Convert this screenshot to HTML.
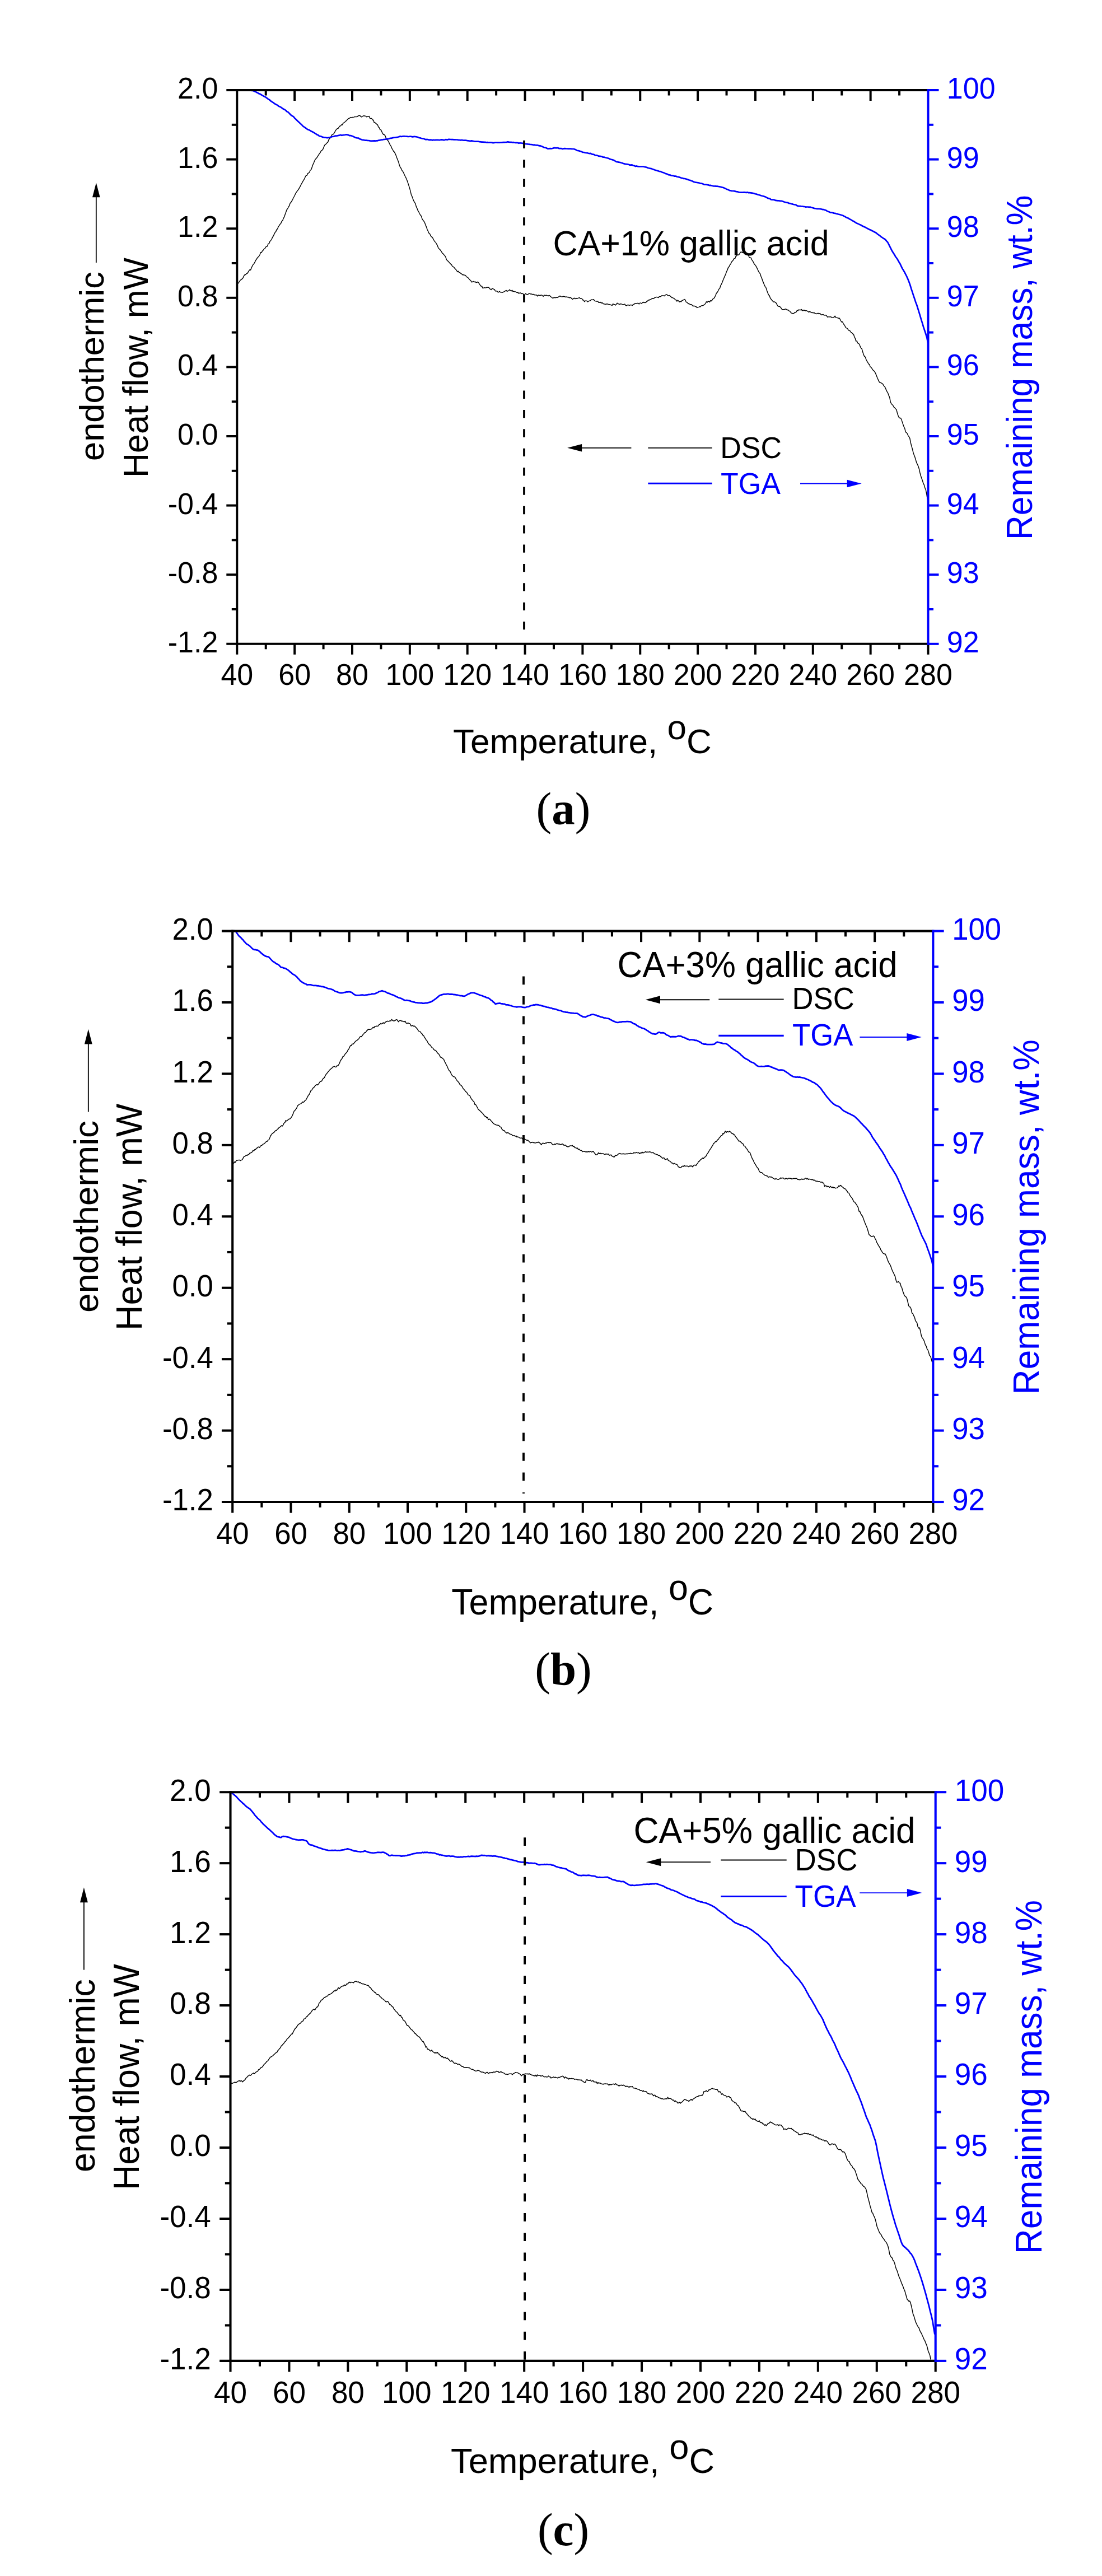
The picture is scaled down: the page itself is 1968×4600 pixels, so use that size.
<!DOCTYPE html>
<html lang="en"><head><meta charset="utf-8"><title>DSC and TGA curves</title>
<style>
html,body{margin:0;padding:0;background:#fff;}
body{width:1968px;height:4600px;overflow:hidden;}
svg{display:block;}
</style></head><body>
<svg width="1968" height="4600" viewBox="0 0 1968 4600">
<rect width="1968" height="4600" fill="#fff"/>
<g transform="translate(0.000 0.000) scale(1.00000 1.00000)">
<polyline points="423.5,506.9 425.0,506.2 426.5,504.5 428.0,501.9 429.5,500.1 431.0,499.1 432.5,497.9 434.0,496.3 435.5,492.9 437.0,490.6 438.5,490.5 440.0,488.7 441.5,488.2 443.0,486.2 444.5,483.6 446.0,481.8 447.5,482.3 449.0,478.4 450.5,475.3 452.0,472.5 453.5,470.9 455.0,468.5 456.5,465.1 458.0,463.0 459.5,460.6 461.0,459.1 462.5,457.5 464.0,455.0 465.5,450.8 467.0,451.1 468.5,448.2 470.0,446.9 471.5,444.7 473.0,443.9 474.5,441.3 476.0,439.9 477.5,439.7 479.0,435.3 480.5,435.0 482.0,431.1 483.6,429.4 485.1,427.3 486.6,423.9 488.1,421.5 489.6,418.4 491.1,415.3 492.6,413.6 494.1,410.1 495.6,408.7 497.1,404.7 498.6,402.9 500.1,400.4 501.6,398.9 503.1,395.2 504.6,394.2 506.1,390.1 507.6,387.4 509.1,382.9 510.6,378.9 512.1,374.6 513.6,372.7 515.1,369.7 516.6,367.5 518.1,363.0 519.6,361.3 521.1,359.0 522.6,356.3 524.1,353.0 525.6,350.5 527.1,347.2 528.6,344.3 530.1,342.1 531.6,340.1 533.1,338.2 534.6,335.6 536.1,332.9 537.6,329.7 539.1,327.2 540.6,324.4 542.1,321.6 543.6,319.6 545.1,316.0 546.6,313.4 548.1,313.2 549.6,309.7 551.1,309.0 552.6,307.8 554.1,303.9 555.6,303.1 557.1,298.9 558.6,294.5 560.1,291.4 561.6,287.5 563.1,284.6 564.6,283.0 566.1,281.2 567.6,278.8 569.1,276.4 570.6,274.1 572.1,272.3 573.7,268.9 575.2,268.3 576.7,266.5 578.2,262.8 579.7,259.2 581.2,257.9 582.7,256.7 584.2,254.9 585.7,253.6 587.2,249.3 588.7,247.5 590.2,245.1 591.7,242.8 593.2,240.0 594.7,239.9 596.2,238.7 597.7,236.2 599.2,233.1 600.7,231.2 602.2,229.8 603.7,229.5 605.2,227.4 606.7,225.2 608.2,224.9 609.7,222.8 611.2,223.1 612.7,220.1 614.2,219.2 615.7,218.0 617.2,217.0 618.7,215.0 620.2,213.7 621.7,212.2 623.2,211.3 624.7,210.8 626.2,209.6 627.7,210.2 629.2,209.4 630.7,209.4 632.2,209.1 633.7,208.4 635.2,208.6 636.7,208.5 638.2,208.1 639.7,206.8 641.2,206.7 642.7,206.1 644.2,208.2 645.7,208.9 647.2,207.6 648.7,207.2 650.2,206.5 651.7,207.4 653.2,207.2 654.7,208.7 656.2,208.2 657.7,208.2 659.2,207.6 660.7,211.2 662.2,211.5 663.8,211.5 665.3,214.3 666.8,214.2 668.3,219.2 669.8,218.9 671.3,220.4 672.8,221.8 674.3,222.8 675.8,226.7 677.3,228.1 678.8,231.8 680.3,231.8 681.8,235.1 683.3,238.3 684.8,240.3 686.3,240.5 687.8,242.2 689.3,246.3 690.8,249.2 692.3,250.4 693.8,252.6 695.3,255.9 696.8,258.8 698.3,261.1 699.8,264.8 701.3,267.2 702.8,270.2 704.3,271.4 705.8,274.4 707.3,277.7 708.8,281.9 710.3,285.8 711.8,289.5 713.3,295.1 714.8,298.8 716.3,300.8 717.8,304.2 719.3,306.0 720.8,308.6 722.3,312.2 723.8,315.3 725.3,318.2 726.8,321.8 728.3,325.9 729.8,330.6 731.3,335.3 732.8,340.6 734.3,347.2 735.8,350.6 737.3,354.8 738.8,358.7 740.3,361.1 741.8,363.6 743.3,368.9 744.8,371.9 746.3,376.0 747.8,378.3 749.3,381.5 750.8,384.1 752.3,385.7 753.9,390.9 755.4,393.2 756.9,394.9 758.4,397.4 759.9,401.6 761.4,405.1 762.9,409.5 764.4,412.7 765.9,416.3 767.4,417.2 768.9,420.5 770.4,422.9 771.9,423.5 773.4,426.2 774.9,429.0 776.4,431.5 777.9,432.5 779.4,435.3 780.9,437.7 782.4,441.8 783.9,444.2 785.4,445.3 786.9,447.2 788.4,449.3 789.9,452.1 791.4,453.2 792.9,455.0 794.4,456.6 795.9,459.1 797.4,463.8 798.9,465.2 800.4,466.6 801.9,468.3 803.4,469.9 804.9,471.6 806.4,472.6 807.9,475.7 809.4,476.4 810.9,477.5 812.4,479.5 813.9,481.0 815.4,482.9 816.9,485.5 818.4,484.2 819.9,486.5 821.4,486.8 822.9,488.3 824.4,489.1 825.9,490.7 827.4,490.8 828.9,491.3 830.4,491.2 831.9,492.6 833.4,494.6 834.9,495.1 836.4,496.6 837.9,498.4 839.4,500.0 840.9,501.3 842.4,503.8 844.0,503.3 845.5,502.5 847.0,503.7 848.5,502.9 850.0,504.5 851.5,504.4 853.0,503.4 854.5,504.6 856.0,506.8 857.5,509.2 859.0,510.9 860.5,510.9 862.0,514.4 863.5,514.3 865.0,513.8 866.5,513.9 868.0,514.0 869.5,512.9 871.0,513.3 872.5,513.1 874.0,514.5 875.5,516.5 877.0,517.5 878.5,515.8 880.0,515.3 881.5,516.4 883.0,516.6 884.5,519.7 886.0,519.6 887.5,519.8 889.0,521.6 890.5,521.8 892.0,520.3 893.5,521.8 895.0,521.7 896.5,522.4 898.0,522.0 899.5,521.2 901.0,520.6 902.5,519.4 904.0,518.5 905.5,520.3 907.0,519.5 908.5,519.2 910.0,517.3 911.5,518.7 913.0,519.7 914.5,518.2 916.0,520.7 917.5,520.0 919.0,521.0 920.5,520.9 922.0,521.6 923.5,522.8 925.0,521.8 926.5,524.1 928.0,523.2 929.5,522.9 931.0,524.5 932.5,523.9 934.1,524.7 935.6,526.1 937.1,526.3 938.6,524.2 940.1,525.4 941.6,526.2 943.1,525.3 944.6,524.3 946.1,524.4 947.6,525.0 949.1,525.0 950.6,525.7 952.1,525.5 953.6,525.8 955.1,526.9 956.6,526.8 958.1,526.7 959.6,528.9 961.1,527.0 962.6,527.3 964.1,527.7 965.6,527.2 967.1,526.9 968.6,527.6 970.1,529.4 971.6,527.3 973.1,527.1 974.6,527.6 976.1,527.2 977.6,527.8 979.1,528.6 980.6,527.2 982.1,528.4 983.6,529.8 985.1,530.8 986.6,532.2 988.1,532.1 989.6,531.2 991.1,531.8 992.6,531.5 994.1,531.3 995.6,531.4 997.1,530.3 998.6,529.4 1000.1,528.4 1001.6,529.6 1003.1,529.9 1004.6,529.7 1006.1,529.3 1007.6,529.8 1009.1,529.8 1010.6,530.7 1012.1,530.0 1013.6,530.7 1015.1,530.4 1016.6,531.9 1018.1,531.1 1019.6,531.8 1021.1,533.5 1022.6,534.4 1024.2,532.9 1025.7,532.2 1027.2,533.6 1028.7,532.5 1030.2,533.3 1031.7,532.6 1033.2,532.1 1034.7,531.4 1036.2,533.1 1037.7,532.7 1039.2,533.3 1040.7,535.8 1042.2,535.8 1043.7,538.7 1045.2,537.2 1046.7,537.2 1048.2,537.5 1049.7,539.0 1051.2,537.8 1052.7,537.2 1054.2,537.0 1055.7,535.2 1057.2,535.2 1058.7,535.4 1060.2,534.7 1061.7,537.1 1063.2,537.6 1064.7,538.0 1066.2,538.0 1067.7,538.1 1069.2,540.3 1070.7,540.3 1072.2,539.5 1073.7,541.3 1075.2,540.3 1076.7,541.9 1078.2,542.8 1079.7,543.0 1081.2,543.2 1082.7,543.2 1084.2,542.5 1085.7,543.4 1087.2,543.5 1088.7,543.7 1090.2,544.3 1091.7,544.7 1093.2,545.5 1094.7,542.6 1096.2,543.8 1097.7,543.6 1099.2,544.9 1100.7,543.4 1102.2,541.2 1103.7,542.8 1105.2,542.5 1106.7,543.6 1108.2,542.5 1109.7,542.9 1111.2,543.4 1112.7,543.7 1114.3,543.5 1115.8,543.1 1117.3,545.3 1118.8,545.9 1120.3,544.7 1121.8,544.5 1123.3,545.1 1124.8,545.2 1126.3,544.4 1127.8,544.6 1129.3,545.6 1130.8,543.5 1132.3,543.4 1133.8,542.0 1135.3,542.3 1136.8,542.2 1138.3,541.5 1139.8,541.4 1141.3,542.9 1142.8,541.1 1144.3,541.0 1145.8,542.0 1147.3,540.5 1148.8,539.4 1150.3,540.6 1151.8,539.8 1153.3,540.6 1154.8,538.0 1156.3,537.7 1157.8,535.8 1159.3,536.1 1160.8,534.8 1162.3,534.6 1163.8,533.5 1165.3,533.0 1166.8,533.4 1168.3,532.3 1169.8,531.2 1171.3,530.7 1172.8,530.4 1174.3,530.8 1175.8,531.5 1177.3,529.7 1178.8,529.9 1180.3,529.3 1181.8,527.9 1183.3,527.9 1184.8,527.9 1186.3,528.6 1187.8,527.2 1189.3,526.4 1190.8,525.8 1192.3,527.6 1193.8,528.0 1195.3,527.5 1196.8,528.6 1198.3,529.9 1199.8,531.5 1201.3,531.6 1202.8,532.5 1204.4,533.4 1205.9,535.2 1207.4,535.7 1208.9,538.0 1210.4,536.1 1211.9,537.5 1213.4,539.2 1214.9,538.4 1216.4,538.9 1217.9,536.7 1219.4,536.2 1220.9,535.4 1222.4,534.5 1223.9,535.8 1225.4,539.6 1226.9,539.9 1228.4,541.4 1229.9,542.6 1231.4,542.8 1232.9,543.8 1234.4,543.7 1235.9,544.7 1237.4,546.6 1238.9,546.3 1240.4,546.5 1241.9,547.5 1243.4,547.7 1244.9,549.4 1246.4,548.6 1247.9,548.4 1249.4,547.7 1250.9,547.9 1252.4,545.9 1253.9,545.8 1255.4,545.6 1256.9,544.6 1258.4,543.5 1259.9,542.3 1261.4,538.7 1262.9,540.1 1264.4,538.2 1265.9,538.0 1267.4,539.5 1268.9,536.7 1270.4,537.5 1271.9,535.8 1273.4,533.4 1274.9,532.8 1276.4,530.5 1277.9,527.6 1279.4,523.5 1280.9,522.1 1282.4,519.5 1283.9,516.2 1285.4,515.0 1286.9,510.1 1288.4,507.3 1289.9,504.0 1291.4,500.0 1292.9,496.5 1294.5,492.9 1296.0,489.5 1297.5,485.0 1299.0,482.2 1300.5,477.8 1302.0,476.2 1303.5,473.0 1305.0,471.1 1306.5,467.6 1308.0,466.3 1309.5,464.3 1311.0,461.6 1312.5,461.9 1314.0,457.8 1315.5,456.9 1317.0,454.9 1318.5,455.4 1320.0,454.3 1321.5,451.9 1323.0,450.0 1324.5,450.1 1326.0,451.2 1327.5,450.7 1329.0,450.3 1330.5,451.0 1332.0,452.3 1333.5,453.5 1335.0,454.2 1336.5,455.8 1338.0,459.3 1339.5,460.4 1341.0,460.3 1342.5,463.6 1344.0,465.8 1345.5,468.1 1347.0,471.6 1348.5,473.1 1350.0,475.1 1351.5,477.9 1353.0,481.0 1354.5,484.5 1356.0,486.9 1357.5,488.7 1359.0,493.5 1360.5,497.1 1362.0,501.6 1363.5,504.9 1365.0,508.9 1366.5,511.9 1368.0,513.9 1369.5,518.8 1371.0,522.7 1372.5,526.5 1374.0,527.9 1375.5,532.0 1377.0,534.2 1378.5,536.0 1380.0,537.7 1381.5,539.2 1383.0,538.9 1384.6,539.9 1386.1,541.1 1387.6,543.9 1389.1,546.5 1390.6,547.2 1392.1,547.0 1393.6,548.6 1395.1,550.3 1396.6,552.5 1398.1,552.8 1399.6,552.6 1401.1,552.5 1402.6,551.8 1404.1,552.3 1405.6,553.7 1407.1,553.2 1408.6,554.8 1410.1,555.4 1411.6,557.0 1413.1,559.0 1414.6,559.3 1416.1,560.2 1417.6,559.7 1419.1,558.0 1420.6,557.8 1422.1,557.0 1423.6,554.2 1425.1,554.7 1426.6,552.9 1428.1,553.7 1429.6,553.5 1431.1,552.4 1432.6,555.0 1434.1,553.5 1435.6,554.8 1437.1,553.7 1438.6,555.1 1440.1,554.7 1441.6,555.3 1443.1,556.3 1444.6,557.6 1446.1,556.0 1447.6,557.2 1449.1,558.4 1450.6,557.9 1452.1,559.0 1453.6,558.1 1455.1,559.4 1456.6,559.6 1458.1,560.5 1459.6,560.0 1461.1,559.2 1462.6,560.6 1464.1,559.5 1465.6,561.1 1467.1,562.4 1468.6,561.8 1470.1,561.5 1471.6,563.1 1473.1,562.9 1474.7,562.8 1476.2,563.9 1477.7,566.2 1479.2,565.9 1480.7,565.6 1482.2,566.1 1483.7,565.6 1485.2,567.1 1486.7,567.0 1488.2,566.7 1489.7,566.2 1491.2,564.3 1492.7,567.1 1494.2,567.1 1495.7,567.6 1497.2,568.3 1498.7,568.0 1500.2,570.0 1501.7,573.1 1503.2,575.2 1504.7,574.7 1506.2,578.3 1507.7,580.0 1509.2,582.6 1510.7,585.3 1512.2,585.9 1513.7,587.1 1515.2,589.6 1516.7,590.3 1518.2,591.0 1519.7,593.5 1521.2,594.0 1522.7,596.3 1524.2,596.5 1525.7,601.3 1527.2,604.2 1528.7,609.2 1530.2,608.7 1531.7,612.7 1533.2,613.3 1534.7,614.7 1536.2,618.7 1537.7,621.6 1539.2,623.1 1540.7,628.5 1542.2,633.1 1543.7,636.5 1545.2,637.3 1546.7,641.8 1548.2,644.8 1549.7,647.2 1551.2,650.0 1552.7,650.8 1554.2,655.2 1555.7,655.9 1557.2,658.1 1558.7,660.4 1560.2,661.9 1561.7,663.3 1563.2,665.8 1564.8,669.6 1566.3,673.5 1567.8,677.0 1569.3,680.4 1570.8,682.8 1572.3,683.3 1573.8,683.9 1575.3,684.8 1576.8,686.1 1578.3,689.0 1579.8,690.2 1581.3,693.1 1582.8,696.6 1584.3,699.6 1585.8,702.2 1587.3,706.4 1588.8,709.9 1590.3,717.9 1591.8,721.0 1593.3,722.5 1594.8,724.0 1596.3,727.0 1597.8,728.1 1599.3,730.0 1600.8,731.3 1602.3,737.0 1603.8,741.7 1605.3,745.2 1606.8,746.5 1608.3,746.4 1609.8,748.9 1611.3,753.6 1612.8,758.1 1614.3,762.2 1615.8,765.3 1617.3,771.5 1618.8,772.3 1620.3,774.4 1621.8,777.8 1623.3,779.9 1624.8,782.6 1626.3,790.5 1627.8,796.4 1629.3,801.5 1630.8,807.6 1632.3,812.4 1633.8,816.0 1635.3,821.0 1636.8,826.1 1638.3,829.0 1639.8,832.4 1641.3,836.9 1642.8,843.7 1644.3,849.6 1645.8,853.8 1647.3,858.1 1648.8,862.7 1650.3,865.9 1651.8,871.2 1653.3,874.7 1654.9,882.8 1656.4,892.7" fill="none" stroke="#000" stroke-width="1.45" stroke-linejoin="round"/>
<polyline points="446.1,160.7 448.1,161.1 450.1,162.0 452.1,161.8 454.1,163.2 456.1,163.4 458.1,165.0 460.1,165.7 462.1,167.1 464.2,167.7 466.2,169.0 468.2,170.2 470.2,171.4 472.2,172.6 474.2,173.3 476.2,174.8 478.2,176.4 480.2,177.7 482.2,179.0 484.2,180.9 486.2,182.1 488.2,183.4 490.2,185.0 492.2,186.2 494.2,187.1 496.2,188.4 498.2,190.0 500.2,190.7 502.2,191.9 504.2,193.3 506.2,194.8 508.2,195.6 510.2,197.0 512.2,199.2 514.2,199.9 516.2,201.9 518.2,204.0 520.2,206.0 522.2,207.1 524.2,208.4 526.2,210.9 528.2,212.7 530.2,214.7 532.2,216.7 534.2,218.6 536.2,220.4 538.2,222.2 540.2,224.4 542.2,226.2 544.2,227.4 546.2,228.8 548.2,230.4 550.2,231.5 552.2,232.1 554.2,233.3 556.2,234.6 558.2,235.5 560.2,236.7 562.2,237.9 564.2,239.2 566.2,240.5 568.2,241.3 570.2,243.0 572.2,243.4 574.2,243.8 576.3,245.0 578.3,245.2 580.3,245.6 582.3,245.7 584.3,246.2 586.3,245.8 588.3,245.5 590.3,245.3 592.3,244.2 594.3,243.8 596.3,243.7 598.3,242.7 600.3,242.7 602.3,242.5 604.3,241.9 606.3,241.6 608.3,240.9 610.3,241.8 612.3,241.3 614.3,241.0 616.3,240.8 618.3,240.3 620.3,240.6 622.3,241.1 624.3,242.2 626.3,242.1 628.3,242.8 630.3,243.5 632.3,244.4 634.3,245.5 636.3,246.2 638.3,246.5 640.3,246.6 642.3,248.1 644.3,248.7 646.3,249.6 648.3,249.9 650.3,250.2 652.3,250.6 654.3,250.6 656.3,250.9 658.3,251.0 660.3,251.4 662.3,251.8 664.3,251.7 666.3,251.7 668.3,251.4 670.3,251.6 672.3,251.4 674.3,251.3 676.3,250.6 678.3,250.4 680.3,249.7 682.3,249.7 684.3,249.2 686.4,249.0 688.4,248.7 690.4,248.0 692.4,248.1 694.4,247.8 696.4,246.9 698.4,246.9 700.4,246.4 702.4,245.8 704.4,245.7 706.4,245.3 708.4,245.2 710.4,244.8 712.4,244.3 714.4,243.4 716.4,244.0 718.4,243.6 720.4,243.3 722.4,243.3 724.4,243.5 726.4,243.7 728.4,243.9 730.4,244.0 732.4,243.5 734.4,243.8 736.4,244.4 738.4,244.1 740.4,243.8 742.4,244.2 744.4,244.5 746.4,245.0 748.4,246.0 750.4,246.3 752.4,247.0 754.4,247.4 756.4,247.6 758.4,248.4 760.4,249.3 762.4,248.9 764.4,249.3 766.4,249.9 768.4,249.6 770.4,249.8 772.4,250.4 774.4,249.8 776.4,250.2 778.4,249.9 780.4,249.8 782.4,249.8 784.4,250.2 786.4,249.8 788.4,249.4 790.4,249.6 792.4,250.1 794.4,249.8 796.4,249.0 798.5,249.7 800.5,248.9 802.5,248.9 804.5,249.0 806.5,249.1 808.5,249.2 810.5,249.4 812.5,249.3 814.5,249.5 816.5,249.5 818.5,249.9 820.5,250.0 822.5,250.3 824.5,250.0 826.5,250.4 828.5,250.6 830.5,250.6 832.5,250.7 834.5,251.1 836.5,251.3 838.5,251.7 840.5,251.9 842.5,251.4 844.5,252.0 846.5,252.2 848.5,252.7 850.5,252.5 852.5,252.6 854.5,252.7 856.5,253.2 858.5,253.4 860.5,253.6 862.5,253.7 864.5,253.8 866.5,253.9 868.5,254.3 870.5,254.1 872.5,254.5 874.5,254.4 876.5,254.3 878.5,254.6 880.5,255.1 882.5,254.9 884.5,254.5 886.5,254.5 888.5,254.7 890.5,254.7 892.5,254.7 894.5,254.3 896.5,254.3 898.5,254.2 900.5,254.1 902.5,254.0 904.5,254.0 906.5,253.3 908.6,253.6 910.6,254.0 912.6,253.8 914.6,254.3 916.6,254.1 918.6,254.5 920.6,254.8 922.6,254.8 924.6,255.0 926.6,255.8 928.6,255.3 930.6,255.5 932.6,255.7 934.6,256.1 936.6,256.6 938.6,257.0 940.6,257.2 942.6,257.3 944.6,257.7 946.6,257.9 948.6,258.0 950.6,258.3 952.6,258.8 954.6,258.7 956.6,259.2 958.6,259.3 960.6,259.4 962.6,260.4 964.6,260.2 966.6,260.9 968.6,261.7 970.6,263.0 972.6,263.3 974.6,263.7 976.6,264.8 978.6,265.7 980.6,265.4 982.6,265.1 984.6,265.4 986.6,265.0 988.6,264.4 990.6,263.9 992.6,264.3 994.6,264.2 996.6,264.2 998.6,265.2 1000.6,265.2 1002.6,265.2 1004.6,265.9 1006.6,265.4 1008.6,265.2 1010.6,265.4 1012.6,265.5 1014.6,265.7 1016.6,265.7 1018.6,265.6 1020.7,265.8 1022.7,266.0 1024.7,266.0 1026.7,266.8 1028.7,267.6 1030.7,268.8 1032.7,269.0 1034.7,269.6 1036.7,270.3 1038.7,270.9 1040.7,272.0 1042.7,272.0 1044.7,272.6 1046.7,272.9 1048.7,273.1 1050.7,273.8 1052.7,274.2 1054.7,273.9 1056.7,275.1 1058.7,275.7 1060.7,275.9 1062.7,277.1 1064.7,277.3 1066.7,277.6 1068.7,278.6 1070.7,278.9 1072.7,279.2 1074.7,279.5 1076.7,280.7 1078.7,280.6 1080.7,281.3 1082.7,281.7 1084.7,282.2 1086.7,282.7 1088.7,283.9 1090.7,284.5 1092.7,285.0 1094.7,285.6 1096.7,286.4 1098.7,287.7 1100.7,288.9 1102.7,289.1 1104.7,289.6 1106.7,289.8 1108.7,290.5 1110.7,290.9 1112.7,291.7 1114.7,292.4 1116.7,292.9 1118.7,293.1 1120.7,293.4 1122.7,293.8 1124.7,294.7 1126.7,294.6 1128.7,294.4 1130.7,295.6 1132.8,295.9 1134.8,297.1 1136.8,296.4 1138.8,297.2 1140.8,297.3 1142.8,297.5 1144.8,297.5 1146.8,297.5 1148.8,297.5 1150.8,298.0 1152.8,298.3 1154.8,298.7 1156.8,299.8 1158.8,300.2 1160.8,300.8 1162.8,300.9 1164.8,301.7 1166.8,302.4 1168.8,303.2 1170.8,303.9 1172.8,304.5 1174.8,305.1 1176.8,305.8 1178.8,306.1 1180.8,306.8 1182.8,307.7 1184.8,308.3 1186.8,309.1 1188.8,310.1 1190.8,310.5 1192.8,311.5 1194.8,312.4 1196.8,312.5 1198.8,313.5 1200.8,313.6 1202.8,314.0 1204.8,314.7 1206.8,314.5 1208.8,315.5 1210.8,315.8 1212.8,316.4 1214.8,317.0 1216.8,317.8 1218.8,318.0 1220.8,318.9 1222.8,319.0 1224.8,319.5 1226.8,320.1 1228.8,320.9 1230.8,321.5 1232.8,322.0 1234.8,323.0 1236.8,323.5 1238.8,324.8 1240.8,325.3 1242.9,325.7 1244.9,326.0 1246.9,326.3 1248.9,326.7 1250.9,327.5 1252.9,327.6 1254.9,328.2 1256.9,329.2 1258.9,329.6 1260.9,329.7 1262.9,330.0 1264.9,330.3 1266.9,331.1 1268.9,330.9 1270.9,331.5 1272.9,332.0 1274.9,332.5 1276.9,332.4 1278.9,332.7 1280.9,332.7 1282.9,333.0 1284.9,333.3 1286.9,333.8 1288.9,334.4 1290.9,334.8 1292.9,335.5 1294.9,336.4 1296.9,337.4 1298.9,338.3 1300.9,339.0 1302.9,340.1 1304.9,340.4 1306.9,341.0 1308.9,341.0 1310.9,341.1 1312.9,341.6 1314.9,342.1 1316.9,342.3 1318.9,343.1 1320.9,343.5 1322.9,343.6 1324.9,343.6 1326.9,343.6 1328.9,343.3 1330.9,343.6 1332.9,343.9 1334.9,343.4 1336.9,344.2 1338.9,344.2 1340.9,344.3 1342.9,344.6 1344.9,345.0 1346.9,345.6 1348.9,346.2 1350.9,346.6 1352.9,347.5 1355.0,348.0 1357.0,348.5 1359.0,349.2 1361.0,349.8 1363.0,350.3 1365.0,350.9 1367.0,351.6 1369.0,352.7 1371.0,353.9 1373.0,354.4 1375.0,354.9 1377.0,356.5 1379.0,356.6 1381.0,356.6 1383.0,357.0 1385.0,357.9 1387.0,358.1 1389.0,358.4 1391.0,358.3 1393.0,358.9 1395.0,358.8 1397.0,359.3 1399.0,360.0 1401.0,360.7 1403.0,361.2 1405.0,361.8 1407.0,361.8 1409.0,363.2 1411.0,363.2 1413.0,364.0 1415.0,364.4 1417.0,365.0 1419.0,365.5 1421.0,365.7 1423.0,367.0 1425.0,367.9 1427.0,368.1 1429.0,368.2 1431.0,368.5 1433.0,368.5 1435.0,368.9 1437.0,369.0 1439.0,369.7 1441.0,369.5 1443.0,369.5 1445.0,369.9 1447.0,369.7 1449.0,370.5 1451.0,371.0 1453.0,371.6 1455.0,372.2 1457.0,372.5 1459.0,372.9 1461.0,372.8 1463.0,373.0 1465.1,373.2 1467.1,373.5 1469.1,374.1 1471.1,374.2 1473.1,374.9 1475.1,375.6 1477.1,376.9 1479.1,377.7 1481.1,378.4 1483.1,379.6 1485.1,379.5 1487.1,380.0 1489.1,380.6 1491.1,380.8 1493.1,381.6 1495.1,381.9 1497.1,382.5 1499.1,383.0 1501.1,383.5 1503.1,384.2 1505.1,384.8 1507.1,385.9 1509.1,386.8 1511.1,388.2 1513.1,388.9 1515.1,389.7 1517.1,391.2 1519.1,392.0 1521.1,393.4 1523.1,394.5 1525.1,395.4 1527.1,396.9 1529.1,398.2 1531.1,399.1 1533.1,399.9 1535.1,400.9 1537.1,401.7 1539.1,403.0 1541.1,404.0 1543.1,405.0 1545.1,405.8 1547.1,406.9 1549.1,408.0 1551.1,409.0 1553.1,410.1 1555.1,410.7 1557.1,412.1 1559.1,412.8 1561.1,414.0 1563.1,415.0 1565.1,416.2 1567.1,418.0 1569.1,419.4 1571.1,420.8 1573.1,422.6 1575.1,423.8 1577.2,425.4 1579.2,426.5 1581.2,427.8 1583.2,430.3 1585.2,432.5 1587.2,436.4 1589.2,440.4 1591.2,444.3 1593.2,448.3 1595.2,451.4 1597.2,454.5 1599.2,458.2 1601.2,460.8 1603.2,463.8 1605.2,467.5 1607.2,470.7 1609.2,474.9 1611.2,479.1 1613.2,482.4 1615.2,485.7 1617.2,489.6 1619.2,493.5 1621.2,498.1 1623.2,503.0 1625.2,508.5 1627.2,515.2 1629.2,521.1 1631.2,527.3 1633.2,533.3 1635.2,539.4 1637.2,544.6 1639.2,551.0 1641.2,557.3 1643.2,564.0 1645.2,570.8 1647.2,577.2 1649.2,584.0 1651.2,590.0 1653.2,596.0 1655.2,602.6 1657.2,612.8" fill="none" stroke="#0000ff" stroke-width="2.7" stroke-linejoin="round"/>
<line x1="936.00" y1="250.80" x2="936.00" y2="1140.00" stroke="#000" stroke-width="3.8" stroke-dasharray="14.3 20.07"/>
<line x1="404.30" y1="161.00" x2="1657.50" y2="161.00" stroke="#000" stroke-width="4.0"/>
<line x1="404.30" y1="1149.80" x2="1659.50" y2="1149.80" stroke="#000" stroke-width="4.0"/>
<line x1="423.30" y1="159.00" x2="423.30" y2="1168.80" stroke="#000" stroke-width="4.0"/>
<line x1="474.73" y1="1149.80" x2="474.73" y2="1159.30" stroke="#000" stroke-width="4.0"/>
<line x1="474.73" y1="161.00" x2="474.73" y2="170.50" stroke="#000" stroke-width="4.0"/>
<line x1="526.15" y1="1149.80" x2="526.15" y2="1168.80" stroke="#000" stroke-width="4.0"/>
<line x1="526.15" y1="161.00" x2="526.15" y2="180.00" stroke="#000" stroke-width="4.0"/>
<line x1="577.58" y1="1149.80" x2="577.58" y2="1159.30" stroke="#000" stroke-width="4.0"/>
<line x1="577.58" y1="161.00" x2="577.58" y2="170.50" stroke="#000" stroke-width="4.0"/>
<line x1="629.00" y1="1149.80" x2="629.00" y2="1168.80" stroke="#000" stroke-width="4.0"/>
<line x1="629.00" y1="161.00" x2="629.00" y2="180.00" stroke="#000" stroke-width="4.0"/>
<line x1="680.42" y1="1149.80" x2="680.42" y2="1159.30" stroke="#000" stroke-width="4.0"/>
<line x1="680.42" y1="161.00" x2="680.42" y2="170.50" stroke="#000" stroke-width="4.0"/>
<line x1="731.85" y1="1149.80" x2="731.85" y2="1168.80" stroke="#000" stroke-width="4.0"/>
<line x1="731.85" y1="161.00" x2="731.85" y2="180.00" stroke="#000" stroke-width="4.0"/>
<line x1="783.28" y1="1149.80" x2="783.28" y2="1159.30" stroke="#000" stroke-width="4.0"/>
<line x1="783.28" y1="161.00" x2="783.28" y2="170.50" stroke="#000" stroke-width="4.0"/>
<line x1="834.70" y1="1149.80" x2="834.70" y2="1168.80" stroke="#000" stroke-width="4.0"/>
<line x1="834.70" y1="161.00" x2="834.70" y2="180.00" stroke="#000" stroke-width="4.0"/>
<line x1="886.12" y1="1149.80" x2="886.12" y2="1159.30" stroke="#000" stroke-width="4.0"/>
<line x1="886.12" y1="161.00" x2="886.12" y2="170.50" stroke="#000" stroke-width="4.0"/>
<line x1="937.55" y1="1149.80" x2="937.55" y2="1168.80" stroke="#000" stroke-width="4.0"/>
<line x1="937.55" y1="161.00" x2="937.55" y2="180.00" stroke="#000" stroke-width="4.0"/>
<line x1="988.97" y1="1149.80" x2="988.97" y2="1159.30" stroke="#000" stroke-width="4.0"/>
<line x1="988.97" y1="161.00" x2="988.97" y2="170.50" stroke="#000" stroke-width="4.0"/>
<line x1="1040.40" y1="1149.80" x2="1040.40" y2="1168.80" stroke="#000" stroke-width="4.0"/>
<line x1="1040.40" y1="161.00" x2="1040.40" y2="180.00" stroke="#000" stroke-width="4.0"/>
<line x1="1091.83" y1="1149.80" x2="1091.83" y2="1159.30" stroke="#000" stroke-width="4.0"/>
<line x1="1091.83" y1="161.00" x2="1091.83" y2="170.50" stroke="#000" stroke-width="4.0"/>
<line x1="1143.25" y1="1149.80" x2="1143.25" y2="1168.80" stroke="#000" stroke-width="4.0"/>
<line x1="1143.25" y1="161.00" x2="1143.25" y2="180.00" stroke="#000" stroke-width="4.0"/>
<line x1="1194.67" y1="1149.80" x2="1194.67" y2="1159.30" stroke="#000" stroke-width="4.0"/>
<line x1="1194.67" y1="161.00" x2="1194.67" y2="170.50" stroke="#000" stroke-width="4.0"/>
<line x1="1246.10" y1="1149.80" x2="1246.10" y2="1168.80" stroke="#000" stroke-width="4.0"/>
<line x1="1246.10" y1="161.00" x2="1246.10" y2="180.00" stroke="#000" stroke-width="4.0"/>
<line x1="1297.53" y1="1149.80" x2="1297.53" y2="1159.30" stroke="#000" stroke-width="4.0"/>
<line x1="1297.53" y1="161.00" x2="1297.53" y2="170.50" stroke="#000" stroke-width="4.0"/>
<line x1="1348.95" y1="1149.80" x2="1348.95" y2="1168.80" stroke="#000" stroke-width="4.0"/>
<line x1="1348.95" y1="161.00" x2="1348.95" y2="180.00" stroke="#000" stroke-width="4.0"/>
<line x1="1400.38" y1="1149.80" x2="1400.38" y2="1159.30" stroke="#000" stroke-width="4.0"/>
<line x1="1400.38" y1="161.00" x2="1400.38" y2="170.50" stroke="#000" stroke-width="4.0"/>
<line x1="1451.80" y1="1149.80" x2="1451.80" y2="1168.80" stroke="#000" stroke-width="4.0"/>
<line x1="1451.80" y1="161.00" x2="1451.80" y2="180.00" stroke="#000" stroke-width="4.0"/>
<line x1="1503.22" y1="1149.80" x2="1503.22" y2="1159.30" stroke="#000" stroke-width="4.0"/>
<line x1="1503.22" y1="161.00" x2="1503.22" y2="170.50" stroke="#000" stroke-width="4.0"/>
<line x1="1554.65" y1="1149.80" x2="1554.65" y2="1168.80" stroke="#000" stroke-width="4.0"/>
<line x1="1554.65" y1="161.00" x2="1554.65" y2="180.00" stroke="#000" stroke-width="4.0"/>
<line x1="1606.08" y1="1149.80" x2="1606.08" y2="1159.30" stroke="#000" stroke-width="4.0"/>
<line x1="1606.08" y1="161.00" x2="1606.08" y2="170.50" stroke="#000" stroke-width="4.0"/>
<line x1="1657.50" y1="1149.80" x2="1657.50" y2="1168.80" stroke="#000" stroke-width="4.0"/>
<line x1="413.80" y1="222.80" x2="423.30" y2="222.80" stroke="#000" stroke-width="4.0"/>
<line x1="404.30" y1="284.60" x2="423.30" y2="284.60" stroke="#000" stroke-width="4.0"/>
<line x1="413.80" y1="346.40" x2="423.30" y2="346.40" stroke="#000" stroke-width="4.0"/>
<line x1="404.30" y1="408.20" x2="423.30" y2="408.20" stroke="#000" stroke-width="4.0"/>
<line x1="413.80" y1="470.00" x2="423.30" y2="470.00" stroke="#000" stroke-width="4.0"/>
<line x1="404.30" y1="531.80" x2="423.30" y2="531.80" stroke="#000" stroke-width="4.0"/>
<line x1="413.80" y1="593.60" x2="423.30" y2="593.60" stroke="#000" stroke-width="4.0"/>
<line x1="404.30" y1="655.40" x2="423.30" y2="655.40" stroke="#000" stroke-width="4.0"/>
<line x1="413.80" y1="717.20" x2="423.30" y2="717.20" stroke="#000" stroke-width="4.0"/>
<line x1="404.30" y1="779.00" x2="423.30" y2="779.00" stroke="#000" stroke-width="4.0"/>
<line x1="413.80" y1="840.80" x2="423.30" y2="840.80" stroke="#000" stroke-width="4.0"/>
<line x1="404.30" y1="902.60" x2="423.30" y2="902.60" stroke="#000" stroke-width="4.0"/>
<line x1="413.80" y1="964.40" x2="423.30" y2="964.40" stroke="#000" stroke-width="4.0"/>
<line x1="404.30" y1="1026.20" x2="423.30" y2="1026.20" stroke="#000" stroke-width="4.0"/>
<line x1="413.80" y1="1088.00" x2="423.30" y2="1088.00" stroke="#000" stroke-width="4.0"/>
<line x1="1657.50" y1="159.00" x2="1657.50" y2="1151.80" stroke="#0000ff" stroke-width="4.0"/>
<line x1="1657.50" y1="161.00" x2="1676.50" y2="161.00" stroke="#0000ff" stroke-width="4.0"/>
<line x1="1657.50" y1="222.80" x2="1667.00" y2="222.80" stroke="#0000ff" stroke-width="4.0"/>
<line x1="1657.50" y1="284.60" x2="1676.50" y2="284.60" stroke="#0000ff" stroke-width="4.0"/>
<line x1="1657.50" y1="346.40" x2="1667.00" y2="346.40" stroke="#0000ff" stroke-width="4.0"/>
<line x1="1657.50" y1="408.20" x2="1676.50" y2="408.20" stroke="#0000ff" stroke-width="4.0"/>
<line x1="1657.50" y1="470.00" x2="1667.00" y2="470.00" stroke="#0000ff" stroke-width="4.0"/>
<line x1="1657.50" y1="531.80" x2="1676.50" y2="531.80" stroke="#0000ff" stroke-width="4.0"/>
<line x1="1657.50" y1="593.60" x2="1667.00" y2="593.60" stroke="#0000ff" stroke-width="4.0"/>
<line x1="1657.50" y1="655.40" x2="1676.50" y2="655.40" stroke="#0000ff" stroke-width="4.0"/>
<line x1="1657.50" y1="717.20" x2="1667.00" y2="717.20" stroke="#0000ff" stroke-width="4.0"/>
<line x1="1657.50" y1="779.00" x2="1676.50" y2="779.00" stroke="#0000ff" stroke-width="4.0"/>
<line x1="1657.50" y1="840.80" x2="1667.00" y2="840.80" stroke="#0000ff" stroke-width="4.0"/>
<line x1="1657.50" y1="902.60" x2="1676.50" y2="902.60" stroke="#0000ff" stroke-width="4.0"/>
<line x1="1657.50" y1="964.40" x2="1667.00" y2="964.40" stroke="#0000ff" stroke-width="4.0"/>
<line x1="1657.50" y1="1026.20" x2="1676.50" y2="1026.20" stroke="#0000ff" stroke-width="4.0"/>
<line x1="1657.50" y1="1088.00" x2="1667.00" y2="1088.00" stroke="#0000ff" stroke-width="4.0"/>
<line x1="1657.50" y1="1149.80" x2="1676.50" y2="1149.80" stroke="#0000ff" stroke-width="4.0"/>
<text x="0" y="0" font-family='"Liberation Sans", Arial, sans-serif' font-size="52.00" fill="#000" text-anchor="end" transform="translate(389.30 176.00) scale(1 1.025)">2.0</text>
<text x="0" y="0" font-family='"Liberation Sans", Arial, sans-serif' font-size="52.00" fill="#000" text-anchor="end" transform="translate(389.30 299.60) scale(1 1.025)">1.6</text>
<text x="0" y="0" font-family='"Liberation Sans", Arial, sans-serif' font-size="52.00" fill="#000" text-anchor="end" transform="translate(389.30 423.20) scale(1 1.025)">1.2</text>
<text x="0" y="0" font-family='"Liberation Sans", Arial, sans-serif' font-size="52.00" fill="#000" text-anchor="end" transform="translate(389.30 546.80) scale(1 1.025)">0.8</text>
<text x="0" y="0" font-family='"Liberation Sans", Arial, sans-serif' font-size="52.00" fill="#000" text-anchor="end" transform="translate(389.30 670.40) scale(1 1.025)">0.4</text>
<text x="0" y="0" font-family='"Liberation Sans", Arial, sans-serif' font-size="52.00" fill="#000" text-anchor="end" transform="translate(389.30 794.00) scale(1 1.025)">0.0</text>
<text x="0" y="0" font-family='"Liberation Sans", Arial, sans-serif' font-size="52.00" fill="#000" text-anchor="end" transform="translate(389.30 917.60) scale(1 1.025)">-0.4</text>
<text x="0" y="0" font-family='"Liberation Sans", Arial, sans-serif' font-size="52.00" fill="#000" text-anchor="end" transform="translate(389.30 1041.20) scale(1 1.025)">-0.8</text>
<text x="0" y="0" font-family='"Liberation Sans", Arial, sans-serif' font-size="52.00" fill="#000" text-anchor="end" transform="translate(389.30 1164.80) scale(1 1.025)">-1.2</text>
<text x="0" y="0" font-family='"Liberation Sans", Arial, sans-serif' font-size="52.00" fill="#0000ff" text-anchor="start" transform="translate(1690.80 176.00) scale(1 1.025)">100</text>
<text x="0" y="0" font-family='"Liberation Sans", Arial, sans-serif' font-size="52.00" fill="#0000ff" text-anchor="start" transform="translate(1690.80 299.60) scale(1 1.025)">99</text>
<text x="0" y="0" font-family='"Liberation Sans", Arial, sans-serif' font-size="52.00" fill="#0000ff" text-anchor="start" transform="translate(1690.80 423.20) scale(1 1.025)">98</text>
<text x="0" y="0" font-family='"Liberation Sans", Arial, sans-serif' font-size="52.00" fill="#0000ff" text-anchor="start" transform="translate(1690.80 546.80) scale(1 1.025)">97</text>
<text x="0" y="0" font-family='"Liberation Sans", Arial, sans-serif' font-size="52.00" fill="#0000ff" text-anchor="start" transform="translate(1690.80 670.40) scale(1 1.025)">96</text>
<text x="0" y="0" font-family='"Liberation Sans", Arial, sans-serif' font-size="52.00" fill="#0000ff" text-anchor="start" transform="translate(1690.80 794.00) scale(1 1.025)">95</text>
<text x="0" y="0" font-family='"Liberation Sans", Arial, sans-serif' font-size="52.00" fill="#0000ff" text-anchor="start" transform="translate(1690.80 917.60) scale(1 1.025)">94</text>
<text x="0" y="0" font-family='"Liberation Sans", Arial, sans-serif' font-size="52.00" fill="#0000ff" text-anchor="start" transform="translate(1690.80 1041.20) scale(1 1.025)">93</text>
<text x="0" y="0" font-family='"Liberation Sans", Arial, sans-serif' font-size="52.00" fill="#0000ff" text-anchor="start" transform="translate(1690.80 1164.80) scale(1 1.025)">92</text>
<text x="0" y="0" font-family='"Liberation Sans", Arial, sans-serif' font-size="52.00" fill="#000" text-anchor="middle" transform="translate(423.30 1222.50) scale(1 1.025)">40</text>
<text x="0" y="0" font-family='"Liberation Sans", Arial, sans-serif' font-size="52.00" fill="#000" text-anchor="middle" transform="translate(526.15 1222.50) scale(1 1.025)">60</text>
<text x="0" y="0" font-family='"Liberation Sans", Arial, sans-serif' font-size="52.00" fill="#000" text-anchor="middle" transform="translate(629.00 1222.50) scale(1 1.025)">80</text>
<text x="0" y="0" font-family='"Liberation Sans", Arial, sans-serif' font-size="52.00" fill="#000" text-anchor="middle" transform="translate(731.85 1222.50) scale(1 1.025)">100</text>
<text x="0" y="0" font-family='"Liberation Sans", Arial, sans-serif' font-size="52.00" fill="#000" text-anchor="middle" transform="translate(834.70 1222.50) scale(1 1.025)">120</text>
<text x="0" y="0" font-family='"Liberation Sans", Arial, sans-serif' font-size="52.00" fill="#000" text-anchor="middle" transform="translate(937.55 1222.50) scale(1 1.025)">140</text>
<text x="0" y="0" font-family='"Liberation Sans", Arial, sans-serif' font-size="52.00" fill="#000" text-anchor="middle" transform="translate(1040.40 1222.50) scale(1 1.025)">160</text>
<text x="0" y="0" font-family='"Liberation Sans", Arial, sans-serif' font-size="52.00" fill="#000" text-anchor="middle" transform="translate(1143.25 1222.50) scale(1 1.025)">180</text>
<text x="0" y="0" font-family='"Liberation Sans", Arial, sans-serif' font-size="52.00" fill="#000" text-anchor="middle" transform="translate(1246.10 1222.50) scale(1 1.025)">200</text>
<text x="0" y="0" font-family='"Liberation Sans", Arial, sans-serif' font-size="52.00" fill="#000" text-anchor="middle" transform="translate(1348.95 1222.50) scale(1 1.025)">220</text>
<text x="0" y="0" font-family='"Liberation Sans", Arial, sans-serif' font-size="52.00" fill="#000" text-anchor="middle" transform="translate(1451.80 1222.50) scale(1 1.025)">240</text>
<text x="0" y="0" font-family='"Liberation Sans", Arial, sans-serif' font-size="52.00" fill="#000" text-anchor="middle" transform="translate(1554.65 1222.50) scale(1 1.025)">260</text>
<text x="0" y="0" font-family='"Liberation Sans", Arial, sans-serif' font-size="52.00" fill="#000" text-anchor="middle" transform="translate(1657.50 1222.50) scale(1 1.025)">280</text>
<text x="809.00" y="1344.80" font-family='"Liberation Sans", Arial, sans-serif' font-size="62.00" fill="#000" text-anchor="start">Temperature, <tspan dy="-25.0">o</tspan><tspan dy="25.0">C</tspan></text>
<text x="0" y="0" font-family='"Liberation Sans", Arial, sans-serif' font-size="61.00" fill="#000" text-anchor="start" transform="translate(263.50 853.00) rotate(-90) scale(1 1.04)">Heat flow, mW</text>
<text x="0" y="0" font-family='"Liberation Sans", Arial, sans-serif' font-size="61.00" fill="#0000ff" text-anchor="start" transform="translate(1843.20 964.00) rotate(-90) scale(0.992 1.06)">Remaining mass, wt.%</text>
<text x="0" y="0" font-family='"Liberation Sans", Arial, sans-serif' font-size="61.40" fill="#000" text-anchor="start" transform="translate(185.00 823.00) rotate(-90)">endothermic</text>
<line x1="171.80" y1="350.20" x2="171.80" y2="469.00" stroke="#000" stroke-width="1.8"/>
<polygon points="171.8,326.2 165.0,352.2 178.6,352.2" fill="#000"/>
<text x="0" y="0" font-family='"Liberation Sans", Arial, sans-serif' font-size="61.00" fill="#000" text-anchor="start" transform="translate(987.50 456.00) scale(1 1.03)">CA+1% gallic acid</text>
<text x="0" y="0" font-family='"Liberation Sans", Arial, sans-serif' font-size="52.00" fill="#000" text-anchor="start" transform="translate(1286.30 818.20) scale(1 1.03)">DSC</text>
<text x="0" y="0" font-family='"Liberation Sans", Arial, sans-serif' font-size="52.00" fill="#0000ff" text-anchor="start" transform="translate(1287.00 881.80) scale(1 1.03)">TGA</text>
<line x1="1157.30" y1="799.80" x2="1271.70" y2="799.80" stroke="#000" stroke-width="1.8"/>
<line x1="1157.30" y1="863.30" x2="1271.70" y2="863.30" stroke="#0000ff" stroke-width="3.0"/>
<line x1="1037.10" y1="799.80" x2="1127.40" y2="799.80" stroke="#000" stroke-width="1.8"/>
<polygon points="1013.1,799.8 1039.1,793.0 1039.1,806.6" fill="#000"/>
<line x1="1429.00" y1="863.50" x2="1514.70" y2="863.50" stroke="#0000ff" stroke-width="1.8"/>
<polygon points="1538.7,863.5 1512.7,856.7 1512.7,870.3" fill="#0000ff"/>
</g>
<text x="1006.0" y="1472.0" font-family='"Liberation Serif", "DejaVu Serif", serif' font-size="83.0" text-anchor="middle" fill="#000">(<tspan font-weight="bold">a</tspan>)</text>
<g transform="translate(-13.931 1496.618) scale(1.01377 1.03095)">
<polyline points="425.3,563.6 426.8,560.8 428.3,561.7 429.8,558.9 431.3,557.8 432.7,558.0 434.2,557.7 435.7,557.6 437.2,558.6 438.7,557.6 440.1,557.5 441.6,555.2 443.1,552.1 444.6,551.2 446.1,550.7 447.5,549.1 449.0,549.8 450.5,548.2 452.0,548.4 453.5,545.7 454.9,545.4 456.4,544.8 457.9,543.7 459.4,540.9 460.9,542.1 462.3,539.5 463.8,539.7 465.3,537.2 466.8,536.8 468.3,535.2 469.8,534.8 471.2,536.0 472.7,533.1 474.2,532.7 475.7,531.6 477.2,529.9 478.6,529.7 480.1,528.6 481.6,526.7 483.1,525.6 484.6,525.2 486.0,523.1 487.5,522.6 489.0,519.1 490.5,515.3 492.0,513.7 493.4,511.5 494.9,510.8 496.4,509.8 497.9,507.9 499.4,506.5 500.8,506.6 502.3,504.1 503.8,503.5 505.3,501.2 506.8,500.6 508.3,499.3 509.7,498.0 511.2,498.8 512.7,496.6 514.2,493.4 515.7,492.6 517.1,489.1 518.6,490.0 520.1,488.9 521.6,487.3 523.1,486.6 524.5,486.4 526.0,484.9 527.5,482.8 529.0,480.1 530.5,476.3 531.9,472.8 533.4,471.7 534.9,469.5 536.4,467.6 537.9,463.5 539.3,462.6 540.8,461.1 542.3,460.5 543.8,460.1 545.3,458.7 546.7,456.9 548.2,457.6 549.7,456.5 551.2,454.3 552.7,453.6 554.2,450.7 555.6,448.1 557.1,445.2 558.6,443.9 560.1,440.4 561.6,437.0 563.0,436.5 564.5,433.9 566.0,432.1 567.5,431.2 569.0,428.8 570.4,427.8 571.9,426.9 573.4,427.6 574.9,425.8 576.4,423.7 577.8,421.5 579.3,421.5 580.8,420.2 582.3,417.3 583.8,415.9 585.2,415.0 586.7,411.5 588.2,409.1 589.7,407.5 591.2,405.4 592.7,404.0 594.1,401.9 595.6,400.6 597.1,399.3 598.6,398.2 600.1,396.2 601.5,396.2 603.0,395.4 604.5,396.5 606.0,396.4 607.5,394.0 608.9,394.8 610.4,392.4 611.9,389.6 613.4,385.7 614.9,383.5 616.3,381.9 617.8,378.2 619.3,377.9 620.8,375.6 622.3,372.9 623.7,372.1 625.2,370.3 626.7,367.1 628.2,365.3 629.7,362.0 631.1,359.3 632.6,359.5 634.1,356.5 635.6,357.1 637.1,355.5 638.6,353.6 640.0,352.0 641.5,350.9 643.0,350.1 644.5,348.7 646.0,347.4 647.4,344.8 648.9,343.5 650.4,344.1 651.9,342.1 653.4,340.1 654.8,338.7 656.3,336.6 657.8,336.9 659.3,334.1 660.8,333.0 662.2,331.2 663.7,331.6 665.2,331.3 666.7,331.1 668.2,330.6 669.6,329.2 671.1,327.5 672.6,328.8 674.1,326.0 675.6,326.0 677.1,325.6 678.5,325.7 680.0,325.4 681.5,323.0 683.0,322.7 684.5,320.8 685.9,322.0 687.4,321.2 688.9,319.5 690.4,321.2 691.9,319.6 693.3,318.2 694.8,317.8 696.3,316.9 697.8,317.3 699.3,317.3 700.7,316.3 702.2,316.7 703.7,314.0 705.2,315.8 706.7,316.6 708.1,316.5 709.6,316.2 711.1,314.8 712.6,314.3 714.1,315.7 715.5,318.2 717.0,316.4 718.5,316.4 720.0,315.7 721.5,317.3 723.0,316.9 724.4,317.9 725.9,318.3 727.4,317.0 728.9,320.1 730.4,321.0 731.8,320.5 733.3,320.5 734.8,321.2 736.3,321.9 737.8,325.2 739.2,325.2 740.7,324.5 742.2,325.9 743.7,325.4 745.2,326.7 746.6,328.1 748.1,329.6 749.6,331.8 751.1,334.1 752.6,334.9 754.0,335.2 755.5,337.5 757.0,338.5 758.5,341.4 760.0,342.0 761.4,344.9 762.9,346.9 764.4,349.5 765.9,351.0 767.4,354.0 768.9,356.4 770.3,358.0 771.8,358.5 773.3,361.1 774.8,363.1 776.3,363.5 777.7,366.0 779.2,367.2 780.7,367.5 782.2,368.8 783.7,371.2 785.1,373.0 786.6,373.9 788.1,376.3 789.6,379.5 791.1,379.9 792.5,380.8 794.0,382.0 795.5,383.3 797.0,387.2 798.5,389.5 799.9,392.7 801.4,395.2 802.9,398.8 804.4,401.9 805.9,403.4 807.4,405.3 808.8,409.1 810.3,411.1 811.8,412.5 813.3,413.5 814.8,413.6 816.2,415.6 817.7,418.3 819.2,420.5 820.7,421.9 822.2,423.7 823.6,426.3 825.1,427.8 826.6,428.7 828.1,430.8 829.6,433.8 831.0,435.1 832.5,436.8 834.0,439.2 835.5,439.9 837.0,442.0 838.4,444.8 839.9,445.1 841.4,446.2 842.9,449.6 844.4,452.1 845.8,453.5 847.3,455.5 848.8,456.9 850.3,461.5 851.8,461.6 853.3,464.3 854.7,466.5 856.2,469.9 857.7,470.9 859.2,472.3 860.7,473.3 862.1,475.8 863.6,476.2 865.1,478.3 866.6,480.2 868.1,482.1 869.5,481.9 871.0,484.7 872.5,483.9 874.0,487.7 875.5,486.5 876.9,487.3 878.4,489.2 879.9,490.7 881.4,492.4 882.9,494.3 884.3,495.2 885.8,495.8 887.3,496.7 888.8,496.9 890.3,497.3 891.8,497.4 893.2,498.6 894.7,500.1 896.2,500.5 897.7,503.8 899.2,505.2 900.6,507.0 902.1,506.5 903.6,508.9 905.1,510.0 906.6,511.1 908.0,510.1 909.5,510.7 911.0,512.1 912.5,512.7 914.0,512.9 915.4,513.7 916.9,515.4 918.4,515.4 919.9,515.3 921.4,516.5 922.8,515.7 924.3,517.8 925.8,517.4 927.3,518.0 928.8,519.0 930.2,519.7 931.7,519.3 933.2,519.6 934.7,521.8 936.2,521.6 937.7,520.6 939.1,522.2 940.6,522.7 942.1,523.7 943.6,523.2 945.1,524.9 946.5,526.1 948.0,527.9 949.5,527.0 951.0,527.2 952.5,526.6 953.9,527.7 955.4,527.8 956.9,528.1 958.4,527.7 959.9,526.7 961.3,527.5 962.8,526.3 964.3,528.0 965.8,529.1 967.3,531.3 968.7,529.2 970.2,528.1 971.7,528.8 973.2,529.2 974.7,528.0 976.2,528.4 977.6,527.0 979.1,526.7 980.6,527.7 982.1,527.4 983.6,526.8 985.0,528.3 986.5,530.1 988.0,531.5 989.5,531.0 991.0,529.8 992.4,530.7 993.9,529.3 995.4,529.3 996.9,530.0 998.4,529.7 999.8,530.2 1001.3,531.3 1002.8,530.4 1004.3,529.8 1005.8,530.4 1007.2,532.2 1008.7,531.8 1010.2,532.0 1011.7,533.9 1013.2,534.5 1014.6,534.6 1016.1,534.4 1017.6,532.9 1019.1,533.0 1020.6,533.1 1022.1,532.2 1023.5,534.5 1025.0,533.7 1026.5,536.3 1028.0,536.3 1029.5,537.2 1030.9,536.8 1032.4,539.3 1033.9,538.7 1035.4,540.5 1036.9,541.0 1038.3,541.1 1039.8,543.2 1041.3,542.7 1042.8,542.6 1044.3,543.0 1045.7,543.7 1047.2,543.3 1048.7,543.6 1050.2,542.6 1051.7,543.6 1053.1,542.8 1054.6,542.9 1056.1,543.9 1057.6,542.9 1059.1,542.7 1060.6,545.1 1062.0,546.7 1063.5,548.6 1065.0,548.5 1066.5,547.3 1068.0,545.0 1069.4,546.6 1070.9,545.5 1072.4,547.0 1073.9,546.3 1075.4,546.8 1076.8,546.6 1078.3,547.8 1079.8,547.7 1081.3,547.0 1082.8,547.5 1084.2,547.5 1085.7,547.2 1087.2,549.5 1088.7,548.9 1090.2,548.6 1091.6,550.6 1093.1,551.3 1094.6,552.2 1096.1,552.3 1097.6,549.6 1099.0,549.8 1100.5,549.5 1102.0,548.1 1103.5,546.9 1105.0,546.1 1106.5,546.4 1107.9,547.3 1109.4,546.8 1110.9,547.1 1112.4,546.7 1113.9,547.2 1115.3,547.2 1116.8,546.9 1118.3,546.7 1119.8,547.0 1121.3,546.4 1122.7,546.5 1124.2,545.8 1125.7,546.3 1127.2,546.8 1128.7,546.5 1130.1,544.8 1131.6,545.2 1133.1,545.2 1134.6,544.6 1136.1,545.0 1137.5,545.2 1139.0,544.8 1140.5,546.7 1142.0,545.2 1143.5,545.4 1145.0,543.9 1146.4,545.5 1147.9,544.7 1149.4,544.1 1150.9,543.0 1152.4,544.1 1153.8,543.5 1155.3,543.9 1156.8,543.8 1158.3,543.4 1159.8,543.8 1161.2,545.0 1162.7,545.1 1164.2,544.6 1165.7,545.9 1167.2,547.1 1168.6,547.1 1170.1,548.0 1171.6,547.9 1173.1,549.4 1174.6,549.8 1176.0,549.8 1177.5,551.9 1179.0,552.4 1180.5,554.6 1182.0,553.9 1183.4,553.8 1184.9,556.3 1186.4,556.7 1187.9,556.0 1189.4,555.1 1190.9,558.2 1192.3,558.9 1193.8,559.6 1195.3,560.9 1196.8,562.7 1198.3,562.6 1199.7,564.6 1201.2,563.2 1202.7,564.0 1204.2,564.8 1205.7,565.0 1207.1,566.1 1208.6,569.4 1210.1,570.0 1211.6,570.7 1213.1,571.1 1214.5,569.0 1216.0,568.1 1217.5,568.8 1219.0,567.0 1220.5,568.4 1221.9,568.0 1223.4,568.0 1224.9,568.0 1226.4,569.2 1227.9,568.7 1229.4,567.5 1230.8,568.5 1232.3,567.6 1233.8,569.5 1235.3,567.5 1236.8,566.5 1238.2,566.1 1239.7,567.3 1241.2,564.9 1242.7,563.4 1244.2,560.3 1245.6,559.8 1247.1,557.8 1248.6,556.6 1250.1,555.3 1251.6,554.1 1253.0,555.4 1254.5,552.7 1256.0,552.3 1257.5,550.9 1259.0,547.8 1260.4,545.9 1261.9,543.8 1263.4,540.6 1264.9,538.9 1266.4,536.7 1267.8,534.3 1269.3,532.1 1270.8,528.8 1272.3,528.2 1273.8,525.9 1275.3,525.9 1276.7,524.1 1278.2,522.3 1279.7,521.3 1281.2,518.1 1282.7,517.6 1284.1,515.1 1285.6,515.2 1287.1,511.5 1288.6,512.5 1290.1,509.7 1291.5,507.5 1293.0,510.0 1294.5,508.2 1296.0,508.6 1297.5,509.2 1298.9,507.6 1300.4,508.9 1301.9,510.3 1303.4,512.0 1304.9,511.7 1306.3,513.9 1307.8,513.8 1309.3,517.1 1310.8,518.5 1312.3,520.7 1313.8,522.6 1315.2,524.9 1316.7,524.6 1318.2,526.0 1319.7,527.4 1321.2,529.0 1322.6,529.4 1324.1,533.1 1325.6,533.3 1327.1,535.2 1328.6,538.1 1330.0,538.8 1331.5,541.7 1333.0,544.1 1334.5,544.1 1336.0,547.8 1337.4,551.5 1338.9,555.2 1340.4,557.6 1341.9,561.0 1343.4,563.8 1344.8,565.6 1346.3,568.6 1347.8,570.8 1349.3,572.2 1350.8,575.9 1352.2,578.1 1353.7,579.4 1355.2,579.2 1356.7,580.1 1358.2,581.6 1359.7,582.8 1361.1,584.0 1362.6,584.0 1364.1,585.1 1365.6,585.2 1367.1,587.5 1368.5,586.9 1370.0,586.4 1371.5,587.3 1373.0,587.0 1374.5,588.3 1375.9,589.3 1377.4,589.9 1378.9,591.1 1380.4,589.6 1381.9,590.4 1383.3,591.0 1384.8,591.3 1386.3,590.5 1387.8,589.9 1389.3,588.3 1390.7,589.2 1392.2,588.6 1393.7,588.6 1395.2,590.3 1396.7,590.6 1398.1,589.1 1399.6,589.8 1401.1,590.6 1402.6,589.1 1404.1,589.0 1405.6,589.8 1407.0,589.1 1408.5,590.5 1410.0,590.1 1411.5,589.5 1413.0,589.6 1414.4,589.7 1415.9,589.5 1417.4,589.6 1418.9,591.3 1420.4,591.4 1421.8,591.9 1423.3,591.7 1424.8,591.3 1426.3,590.2 1427.8,591.3 1429.2,590.6 1430.7,590.9 1432.2,589.1 1433.7,589.0 1435.2,590.9 1436.6,589.5 1438.1,591.3 1439.6,590.5 1441.1,590.9 1442.6,591.3 1444.1,591.8 1445.5,591.4 1447.0,592.7 1448.5,592.4 1450.0,593.7 1451.5,594.3 1452.9,594.2 1454.4,594.4 1455.9,595.3 1457.4,594.9 1458.9,595.9 1460.3,595.9 1461.8,595.8 1463.3,597.3 1464.8,597.5 1466.3,603.4 1467.7,602.1 1469.2,602.2 1470.7,604.1 1472.2,602.7 1473.7,604.1 1475.1,604.9 1476.6,603.1 1478.1,604.6 1479.6,605.5 1481.1,604.1 1482.5,605.9 1484.0,605.3 1485.5,606.5 1487.0,606.0 1488.5,605.9 1490.0,604.5 1491.4,602.1 1492.9,603.0 1494.4,601.4 1495.9,602.6 1497.4,604.1 1498.8,605.0 1500.3,606.7 1501.8,607.3 1503.3,607.7 1504.8,610.5 1506.2,611.8 1507.7,614.5 1509.2,614.9 1510.7,618.3 1512.2,620.9 1513.6,622.2 1515.1,624.2 1516.6,627.4 1518.1,630.1 1519.6,630.6 1521.0,633.0 1522.5,634.5 1524.0,637.4 1525.5,640.0 1527.0,646.4 1528.5,646.7 1529.9,650.4 1531.4,652.9 1532.9,654.5 1534.4,658.3 1535.9,662.5 1537.3,666.1 1538.8,669.9 1540.3,672.8 1541.8,676.9 1543.3,682.0 1544.7,686.8 1546.2,688.0 1547.7,689.4 1549.2,690.2 1550.7,689.8 1552.1,689.1 1553.6,689.8 1555.1,693.2 1556.6,695.7 1558.1,700.0 1559.5,702.3 1561.0,705.1 1562.5,707.5 1564.0,709.8 1565.5,713.6 1566.9,715.2 1568.4,718.3 1569.9,719.2 1571.4,720.3 1572.9,720.0 1574.4,722.8 1575.8,726.1 1577.3,730.6 1578.8,734.0 1580.3,736.8 1581.8,739.1 1583.2,742.4 1584.7,746.7 1586.2,750.2 1587.7,753.1 1589.2,756.3 1590.6,759.3 1592.1,765.7 1593.6,769.6 1595.1,768.7 1596.6,768.1 1598.0,770.6 1599.5,770.7 1601.0,776.5 1602.5,779.0 1604.0,784.5 1605.4,788.1 1606.9,792.3 1608.4,793.7 1609.9,794.9 1611.4,797.6 1612.9,803.3 1614.3,809.6 1615.8,812.0 1617.3,812.2 1618.8,815.9 1620.3,822.8 1621.7,823.4 1623.2,827.3 1624.7,829.3 1626.2,835.3 1627.7,837.8 1629.1,839.4 1630.6,846.4 1632.1,848.9 1633.6,848.1 1635.1,853.5 1636.5,860.8 1638.0,865.0 1639.5,866.9 1641.0,869.5 1642.5,873.2 1643.9,878.1 1645.4,879.9 1646.9,885.0 1648.4,886.8 1649.9,891.3 1651.3,896.7 1652.8,897.2 1654.3,902.2 1655.8,907.6" fill="none" stroke="#000" stroke-width="1.45" stroke-linejoin="round"/>
<polyline points="426.2,160.1 428.2,161.0 430.1,163.2 432.1,166.0 434.1,168.8 436.1,170.8 438.0,172.3 440.0,174.6 442.0,176.4 444.0,179.2 446.0,181.1 447.9,183.3 449.9,184.2 451.9,185.6 453.9,187.0 455.8,188.9 457.8,191.0 459.8,192.6 461.8,193.2 463.7,193.3 465.7,193.9 467.7,193.9 469.7,195.4 471.6,196.8 473.6,198.9 475.6,200.6 477.6,202.2 479.5,203.3 481.5,204.5 483.5,205.1 485.5,205.3 487.4,206.1 489.4,208.3 491.4,210.5 493.4,212.5 495.3,214.3 497.3,215.0 499.3,216.8 501.3,218.0 503.3,218.6 505.2,220.1 507.2,222.3 509.2,224.1 511.2,224.0 513.1,225.0 515.1,225.3 517.1,226.0 519.1,227.3 521.0,228.5 523.0,230.0 525.0,231.8 527.0,233.3 528.9,235.1 530.9,236.4 532.9,237.3 534.9,239.0 536.8,240.6 538.8,243.0 540.8,244.9 542.8,247.3 544.7,248.6 546.7,250.1 548.7,251.1 550.7,252.1 552.7,252.8 554.6,254.2 556.6,253.8 558.6,254.0 560.6,254.0 562.5,254.4 564.5,255.0 566.5,255.4 568.5,255.4 570.4,255.4 572.4,255.8 574.4,255.7 576.4,256.4 578.3,256.6 580.3,257.3 582.3,257.3 584.3,257.8 586.2,258.4 588.2,259.0 590.2,260.1 592.2,260.6 594.1,260.9 596.1,261.3 598.1,262.1 600.1,262.7 602.1,264.1 604.0,265.1 606.0,266.0 608.0,266.3 610.0,267.3 611.9,267.9 613.9,268.3 615.9,268.2 617.9,268.0 619.8,267.3 621.8,267.2 623.8,266.4 625.8,266.6 627.7,266.2 629.7,266.3 631.7,266.7 633.7,267.6 635.6,269.2 637.6,270.8 639.6,271.8 641.6,272.4 643.5,272.3 645.5,272.4 647.5,272.2 649.5,271.9 651.5,271.6 653.4,271.7 655.4,272.3 657.4,271.8 659.4,271.6 661.3,271.4 663.3,270.9 665.3,270.9 667.3,270.5 669.2,269.6 671.2,269.9 673.2,269.6 675.2,269.1 677.1,268.2 679.1,267.4 681.1,266.1 683.1,265.6 685.0,264.9 687.0,264.3 689.0,265.4 691.0,265.7 692.9,266.3 694.9,267.5 696.9,268.7 698.9,268.8 700.9,269.8 702.8,270.9 704.8,271.2 706.8,272.1 708.8,273.0 710.7,274.0 712.7,274.8 714.7,275.8 716.7,276.7 718.6,277.0 720.6,277.8 722.6,278.8 724.6,280.0 726.5,280.8 728.5,281.1 730.5,280.7 732.5,281.4 734.4,281.5 736.4,282.0 738.4,283.0 740.4,283.5 742.3,283.9 744.3,284.3 746.3,285.0 748.3,284.9 750.2,285.5 752.2,285.4 754.2,285.6 756.2,285.5 758.2,286.1 760.1,286.1 762.1,285.8 764.1,285.5 766.1,285.6 768.0,285.0 770.0,284.4 772.0,284.0 774.0,283.1 775.9,281.9 777.9,280.7 779.9,279.2 781.9,277.8 783.8,276.1 785.8,274.7 787.8,272.8 789.8,272.1 791.7,271.4 793.7,270.9 795.7,270.3 797.7,270.5 799.6,270.3 801.6,269.9 803.6,269.9 805.6,270.5 807.6,270.5 809.5,270.5 811.5,270.6 813.5,271.2 815.5,271.0 817.4,271.7 819.4,271.7 821.4,272.2 823.4,272.8 825.3,273.0 827.3,273.1 829.3,273.5 831.3,273.9 833.2,273.1 835.2,272.1 837.2,270.8 839.2,270.0 841.1,269.2 843.1,268.2 845.1,268.0 847.1,268.0 849.0,268.0 851.0,268.8 853.0,269.4 855.0,270.4 857.0,271.0 858.9,271.9 860.9,272.5 862.9,272.9 864.9,273.8 866.8,274.8 868.8,275.1 870.8,276.3 872.8,276.7 874.7,277.3 876.7,278.8 878.7,280.6 880.7,281.7 882.6,283.9 884.6,285.1 886.6,287.5 888.6,286.7 890.5,286.4 892.5,286.1 894.5,286.0 896.5,286.8 898.4,286.8 900.4,287.3 902.4,287.3 904.4,288.5 906.4,288.9 908.3,288.9 910.3,289.3 912.3,290.0 914.3,290.3 916.2,291.1 918.2,291.6 920.2,292.0 922.2,292.2 924.1,292.6 926.1,292.2 928.1,292.3 930.1,292.3 932.0,292.3 934.0,292.9 936.0,293.2 938.0,293.5 939.9,293.1 941.9,292.3 943.9,292.2 945.9,291.6 947.8,290.6 949.8,289.9 951.8,289.6 953.8,288.9 955.7,289.0 957.7,288.4 959.7,288.5 961.7,288.7 963.7,289.2 965.6,289.6 967.6,290.2 969.6,290.8 971.6,291.4 973.5,291.4 975.5,292.5 977.5,292.9 979.5,293.2 981.4,293.7 983.4,294.3 985.4,294.4 987.4,295.6 989.3,295.7 991.3,296.2 993.3,296.5 995.3,297.5 997.2,297.9 999.2,298.5 1001.2,298.7 1003.2,299.7 1005.1,300.3 1007.1,300.9 1009.1,301.1 1011.1,301.6 1013.1,301.7 1015.0,302.2 1017.0,302.3 1019.0,302.8 1021.0,303.0 1022.9,303.1 1024.9,303.4 1026.9,303.6 1028.9,303.5 1030.8,303.7 1032.8,304.8 1034.8,306.3 1036.8,307.5 1038.7,308.4 1040.7,309.6 1042.7,309.5 1044.7,310.2 1046.6,309.2 1048.6,308.4 1050.6,307.4 1052.6,306.9 1054.5,306.1 1056.5,305.6 1058.5,305.3 1060.5,305.9 1062.5,306.4 1064.4,306.8 1066.4,308.2 1068.4,308.3 1070.4,309.1 1072.3,309.9 1074.3,310.2 1076.3,310.8 1078.3,311.6 1080.2,311.5 1082.2,312.0 1084.2,312.3 1086.2,312.7 1088.1,313.9 1090.1,314.8 1092.1,315.8 1094.1,317.1 1096.0,317.4 1098.0,318.7 1100.0,319.1 1102.0,319.3 1103.9,319.2 1105.9,318.3 1107.9,318.6 1109.9,317.9 1111.9,317.9 1113.8,317.9 1115.8,318.0 1117.8,317.7 1119.8,317.7 1121.7,318.0 1123.7,317.9 1125.7,318.8 1127.7,320.0 1129.6,321.4 1131.6,321.7 1133.6,322.8 1135.6,324.5 1137.5,325.5 1139.5,326.9 1141.5,327.5 1143.5,328.4 1145.4,329.4 1147.4,329.7 1149.4,330.5 1151.4,331.8 1153.3,333.0 1155.3,334.1 1157.3,335.8 1159.3,336.8 1161.3,338.1 1163.2,338.9 1165.2,339.1 1167.2,339.4 1169.2,339.4 1171.1,338.5 1173.1,336.9 1175.1,336.3 1177.1,337.2 1179.0,337.4 1181.0,337.0 1183.0,337.3 1185.0,338.6 1186.9,340.1 1188.9,341.3 1190.9,341.8 1192.9,343.3 1194.8,344.3 1196.8,344.0 1198.8,343.9 1200.8,344.0 1202.7,343.8 1204.7,344.0 1206.7,343.5 1208.7,342.7 1210.6,343.0 1212.6,343.0 1214.6,343.6 1216.6,345.0 1218.6,345.2 1220.5,346.2 1222.5,346.8 1224.5,348.2 1226.5,348.5 1228.4,349.7 1230.4,349.3 1232.4,349.3 1234.4,349.5 1236.3,349.7 1238.3,350.4 1240.3,350.2 1242.3,351.1 1244.2,352.0 1246.2,352.9 1248.2,353.8 1250.2,355.6 1252.1,356.2 1254.1,356.9 1256.1,356.8 1258.1,357.1 1260.0,357.5 1262.0,357.4 1264.0,357.5 1266.0,357.4 1268.0,357.5 1269.9,357.1 1271.9,356.9 1273.9,355.5 1275.9,353.8 1277.8,353.2 1279.8,353.9 1281.8,354.4 1283.8,354.9 1285.7,355.1 1287.7,356.0 1289.7,355.9 1291.7,356.1 1293.6,356.6 1295.6,357.5 1297.6,359.4 1299.6,360.9 1301.5,363.1 1303.5,364.0 1305.5,365.8 1307.5,366.8 1309.4,368.0 1311.4,369.5 1313.4,370.5 1315.4,372.3 1317.4,373.8 1319.3,375.8 1321.3,377.3 1323.3,379.4 1325.3,380.8 1327.2,382.0 1329.2,382.9 1331.2,384.0 1333.2,385.4 1335.1,386.8 1337.1,387.9 1339.1,388.6 1341.1,389.3 1343.0,390.7 1345.0,392.2 1347.0,394.1 1349.0,394.9 1350.9,395.6 1352.9,395.5 1354.9,395.2 1356.9,395.5 1358.8,395.5 1360.8,395.4 1362.8,394.7 1364.8,394.8 1366.8,394.5 1368.7,395.0 1370.7,395.7 1372.7,396.8 1374.7,397.3 1376.6,398.4 1378.6,398.9 1380.6,399.6 1382.6,400.6 1384.5,401.5 1386.5,401.9 1388.5,401.6 1390.5,401.6 1392.4,401.8 1394.4,402.3 1396.4,403.7 1398.4,404.9 1400.3,406.3 1402.3,407.4 1404.3,409.0 1406.3,410.5 1408.2,411.6 1410.2,412.7 1412.2,413.4 1414.2,413.7 1416.1,414.3 1418.1,413.8 1420.1,414.3 1422.1,414.0 1424.1,414.4 1426.0,414.8 1428.0,415.2 1430.0,415.5 1432.0,416.4 1433.9,417.1 1435.9,418.0 1437.9,418.7 1439.9,419.9 1441.8,420.4 1443.8,421.8 1445.8,423.0 1447.8,423.4 1449.7,424.8 1451.7,426.2 1453.7,427.5 1455.7,429.6 1457.6,431.5 1459.6,433.6 1461.6,436.4 1463.6,439.3 1465.5,441.5 1467.5,444.4 1469.5,447.0 1471.5,449.5 1473.5,451.4 1475.4,453.9 1477.4,456.2 1479.4,458.0 1481.4,460.0 1483.3,461.1 1485.3,462.6 1487.3,463.4 1489.3,464.0 1491.2,464.9 1493.2,466.2 1495.2,468.0 1497.2,470.0 1499.1,471.7 1501.1,473.1 1503.1,473.9 1505.1,474.9 1507.0,476.1 1509.0,476.8 1511.0,477.8 1513.0,478.8 1514.9,479.9 1516.9,480.8 1518.9,481.9 1520.9,483.7 1522.9,485.6 1524.8,487.3 1526.8,489.3 1528.8,491.6 1530.8,493.8 1532.7,495.4 1534.7,497.7 1536.7,499.7 1538.7,501.6 1540.6,503.8 1542.6,506.2 1544.6,508.2 1546.6,510.9 1548.5,514.1 1550.5,517.8 1552.5,520.7 1554.5,523.5 1556.4,526.4 1558.4,529.1 1560.4,531.8 1562.4,535.0 1564.3,538.1 1566.3,540.8 1568.3,543.6 1570.3,547.2 1572.3,550.1 1574.2,554.4 1576.2,557.4 1578.2,561.4 1580.2,564.6 1582.1,568.2 1584.1,570.8 1586.1,573.9 1588.1,577.1 1590.0,580.1 1592.0,583.3 1594.0,587.3 1596.0,591.4 1597.9,596.0 1599.9,599.6 1601.9,605.1 1603.9,609.8 1605.8,613.9 1607.8,618.4 1609.8,623.0 1611.8,627.4 1613.7,631.9 1615.7,636.8 1617.7,640.3 1619.7,645.4 1621.7,650.1 1623.6,654.4 1625.6,659.4 1627.6,663.5 1629.6,668.4 1631.5,673.2 1633.5,678.5 1635.5,683.4 1637.5,688.4 1639.4,692.1 1641.4,695.9 1643.4,699.9 1645.4,704.0 1647.3,709.8 1649.3,714.9 1651.3,720.6 1653.3,726.5 1655.2,732.2 1657.2,741.2" fill="none" stroke="#0000ff" stroke-width="2.7" stroke-linejoin="round"/>
<line x1="936.04" y1="239.57" x2="936.04" y2="1135.25" stroke="#000" stroke-width="3.8" stroke-dasharray="14.3 20.07"/>
<line x1="404.30" y1="161.00" x2="1657.50" y2="161.00" stroke="#000" stroke-width="4.0"/>
<line x1="404.30" y1="1149.80" x2="1659.50" y2="1149.80" stroke="#000" stroke-width="4.0"/>
<line x1="423.30" y1="159.00" x2="423.30" y2="1168.80" stroke="#000" stroke-width="4.0"/>
<line x1="474.73" y1="1149.80" x2="474.73" y2="1159.30" stroke="#000" stroke-width="4.0"/>
<line x1="474.73" y1="161.00" x2="474.73" y2="170.50" stroke="#000" stroke-width="4.0"/>
<line x1="526.15" y1="1149.80" x2="526.15" y2="1168.80" stroke="#000" stroke-width="4.0"/>
<line x1="526.15" y1="161.00" x2="526.15" y2="180.00" stroke="#000" stroke-width="4.0"/>
<line x1="577.58" y1="1149.80" x2="577.58" y2="1159.30" stroke="#000" stroke-width="4.0"/>
<line x1="577.58" y1="161.00" x2="577.58" y2="170.50" stroke="#000" stroke-width="4.0"/>
<line x1="629.00" y1="1149.80" x2="629.00" y2="1168.80" stroke="#000" stroke-width="4.0"/>
<line x1="629.00" y1="161.00" x2="629.00" y2="180.00" stroke="#000" stroke-width="4.0"/>
<line x1="680.42" y1="1149.80" x2="680.42" y2="1159.30" stroke="#000" stroke-width="4.0"/>
<line x1="680.42" y1="161.00" x2="680.42" y2="170.50" stroke="#000" stroke-width="4.0"/>
<line x1="731.85" y1="1149.80" x2="731.85" y2="1168.80" stroke="#000" stroke-width="4.0"/>
<line x1="731.85" y1="161.00" x2="731.85" y2="180.00" stroke="#000" stroke-width="4.0"/>
<line x1="783.28" y1="1149.80" x2="783.28" y2="1159.30" stroke="#000" stroke-width="4.0"/>
<line x1="783.28" y1="161.00" x2="783.28" y2="170.50" stroke="#000" stroke-width="4.0"/>
<line x1="834.70" y1="1149.80" x2="834.70" y2="1168.80" stroke="#000" stroke-width="4.0"/>
<line x1="834.70" y1="161.00" x2="834.70" y2="180.00" stroke="#000" stroke-width="4.0"/>
<line x1="886.12" y1="1149.80" x2="886.12" y2="1159.30" stroke="#000" stroke-width="4.0"/>
<line x1="886.12" y1="161.00" x2="886.12" y2="170.50" stroke="#000" stroke-width="4.0"/>
<line x1="937.55" y1="1149.80" x2="937.55" y2="1168.80" stroke="#000" stroke-width="4.0"/>
<line x1="937.55" y1="161.00" x2="937.55" y2="180.00" stroke="#000" stroke-width="4.0"/>
<line x1="988.97" y1="1149.80" x2="988.97" y2="1159.30" stroke="#000" stroke-width="4.0"/>
<line x1="988.97" y1="161.00" x2="988.97" y2="170.50" stroke="#000" stroke-width="4.0"/>
<line x1="1040.40" y1="1149.80" x2="1040.40" y2="1168.80" stroke="#000" stroke-width="4.0"/>
<line x1="1040.40" y1="161.00" x2="1040.40" y2="180.00" stroke="#000" stroke-width="4.0"/>
<line x1="1091.83" y1="1149.80" x2="1091.83" y2="1159.30" stroke="#000" stroke-width="4.0"/>
<line x1="1091.83" y1="161.00" x2="1091.83" y2="170.50" stroke="#000" stroke-width="4.0"/>
<line x1="1143.25" y1="1149.80" x2="1143.25" y2="1168.80" stroke="#000" stroke-width="4.0"/>
<line x1="1143.25" y1="161.00" x2="1143.25" y2="180.00" stroke="#000" stroke-width="4.0"/>
<line x1="1194.67" y1="1149.80" x2="1194.67" y2="1159.30" stroke="#000" stroke-width="4.0"/>
<line x1="1194.67" y1="161.00" x2="1194.67" y2="170.50" stroke="#000" stroke-width="4.0"/>
<line x1="1246.10" y1="1149.80" x2="1246.10" y2="1168.80" stroke="#000" stroke-width="4.0"/>
<line x1="1246.10" y1="161.00" x2="1246.10" y2="180.00" stroke="#000" stroke-width="4.0"/>
<line x1="1297.53" y1="1149.80" x2="1297.53" y2="1159.30" stroke="#000" stroke-width="4.0"/>
<line x1="1297.53" y1="161.00" x2="1297.53" y2="170.50" stroke="#000" stroke-width="4.0"/>
<line x1="1348.95" y1="1149.80" x2="1348.95" y2="1168.80" stroke="#000" stroke-width="4.0"/>
<line x1="1348.95" y1="161.00" x2="1348.95" y2="180.00" stroke="#000" stroke-width="4.0"/>
<line x1="1400.38" y1="1149.80" x2="1400.38" y2="1159.30" stroke="#000" stroke-width="4.0"/>
<line x1="1400.38" y1="161.00" x2="1400.38" y2="170.50" stroke="#000" stroke-width="4.0"/>
<line x1="1451.80" y1="1149.80" x2="1451.80" y2="1168.80" stroke="#000" stroke-width="4.0"/>
<line x1="1451.80" y1="161.00" x2="1451.80" y2="180.00" stroke="#000" stroke-width="4.0"/>
<line x1="1503.22" y1="1149.80" x2="1503.22" y2="1159.30" stroke="#000" stroke-width="4.0"/>
<line x1="1503.22" y1="161.00" x2="1503.22" y2="170.50" stroke="#000" stroke-width="4.0"/>
<line x1="1554.65" y1="1149.80" x2="1554.65" y2="1168.80" stroke="#000" stroke-width="4.0"/>
<line x1="1554.65" y1="161.00" x2="1554.65" y2="180.00" stroke="#000" stroke-width="4.0"/>
<line x1="1606.08" y1="1149.80" x2="1606.08" y2="1159.30" stroke="#000" stroke-width="4.0"/>
<line x1="1606.08" y1="161.00" x2="1606.08" y2="170.50" stroke="#000" stroke-width="4.0"/>
<line x1="1657.50" y1="1149.80" x2="1657.50" y2="1168.80" stroke="#000" stroke-width="4.0"/>
<line x1="413.80" y1="222.80" x2="423.30" y2="222.80" stroke="#000" stroke-width="4.0"/>
<line x1="404.30" y1="284.60" x2="423.30" y2="284.60" stroke="#000" stroke-width="4.0"/>
<line x1="413.80" y1="346.40" x2="423.30" y2="346.40" stroke="#000" stroke-width="4.0"/>
<line x1="404.30" y1="408.20" x2="423.30" y2="408.20" stroke="#000" stroke-width="4.0"/>
<line x1="413.80" y1="470.00" x2="423.30" y2="470.00" stroke="#000" stroke-width="4.0"/>
<line x1="404.30" y1="531.80" x2="423.30" y2="531.80" stroke="#000" stroke-width="4.0"/>
<line x1="413.80" y1="593.60" x2="423.30" y2="593.60" stroke="#000" stroke-width="4.0"/>
<line x1="404.30" y1="655.40" x2="423.30" y2="655.40" stroke="#000" stroke-width="4.0"/>
<line x1="413.80" y1="717.20" x2="423.30" y2="717.20" stroke="#000" stroke-width="4.0"/>
<line x1="404.30" y1="779.00" x2="423.30" y2="779.00" stroke="#000" stroke-width="4.0"/>
<line x1="413.80" y1="840.80" x2="423.30" y2="840.80" stroke="#000" stroke-width="4.0"/>
<line x1="404.30" y1="902.60" x2="423.30" y2="902.60" stroke="#000" stroke-width="4.0"/>
<line x1="413.80" y1="964.40" x2="423.30" y2="964.40" stroke="#000" stroke-width="4.0"/>
<line x1="404.30" y1="1026.20" x2="423.30" y2="1026.20" stroke="#000" stroke-width="4.0"/>
<line x1="413.80" y1="1088.00" x2="423.30" y2="1088.00" stroke="#000" stroke-width="4.0"/>
<line x1="1657.50" y1="159.00" x2="1657.50" y2="1151.80" stroke="#0000ff" stroke-width="4.0"/>
<line x1="1657.50" y1="161.00" x2="1676.50" y2="161.00" stroke="#0000ff" stroke-width="4.0"/>
<line x1="1657.50" y1="222.80" x2="1667.00" y2="222.80" stroke="#0000ff" stroke-width="4.0"/>
<line x1="1657.50" y1="284.60" x2="1676.50" y2="284.60" stroke="#0000ff" stroke-width="4.0"/>
<line x1="1657.50" y1="346.40" x2="1667.00" y2="346.40" stroke="#0000ff" stroke-width="4.0"/>
<line x1="1657.50" y1="408.20" x2="1676.50" y2="408.20" stroke="#0000ff" stroke-width="4.0"/>
<line x1="1657.50" y1="470.00" x2="1667.00" y2="470.00" stroke="#0000ff" stroke-width="4.0"/>
<line x1="1657.50" y1="531.80" x2="1676.50" y2="531.80" stroke="#0000ff" stroke-width="4.0"/>
<line x1="1657.50" y1="593.60" x2="1667.00" y2="593.60" stroke="#0000ff" stroke-width="4.0"/>
<line x1="1657.50" y1="655.40" x2="1676.50" y2="655.40" stroke="#0000ff" stroke-width="4.0"/>
<line x1="1657.50" y1="717.20" x2="1667.00" y2="717.20" stroke="#0000ff" stroke-width="4.0"/>
<line x1="1657.50" y1="779.00" x2="1676.50" y2="779.00" stroke="#0000ff" stroke-width="4.0"/>
<line x1="1657.50" y1="840.80" x2="1667.00" y2="840.80" stroke="#0000ff" stroke-width="4.0"/>
<line x1="1657.50" y1="902.60" x2="1676.50" y2="902.60" stroke="#0000ff" stroke-width="4.0"/>
<line x1="1657.50" y1="964.40" x2="1667.00" y2="964.40" stroke="#0000ff" stroke-width="4.0"/>
<line x1="1657.50" y1="1026.20" x2="1676.50" y2="1026.20" stroke="#0000ff" stroke-width="4.0"/>
<line x1="1657.50" y1="1088.00" x2="1667.00" y2="1088.00" stroke="#0000ff" stroke-width="4.0"/>
<line x1="1657.50" y1="1149.80" x2="1676.50" y2="1149.80" stroke="#0000ff" stroke-width="4.0"/>
<text x="0" y="0" font-family='"Liberation Sans", Arial, sans-serif' font-size="52.00" fill="#000" text-anchor="end" transform="translate(389.30 176.00) scale(1 1.025)">2.0</text>
<text x="0" y="0" font-family='"Liberation Sans", Arial, sans-serif' font-size="52.00" fill="#000" text-anchor="end" transform="translate(389.30 299.60) scale(1 1.025)">1.6</text>
<text x="0" y="0" font-family='"Liberation Sans", Arial, sans-serif' font-size="52.00" fill="#000" text-anchor="end" transform="translate(389.30 423.20) scale(1 1.025)">1.2</text>
<text x="0" y="0" font-family='"Liberation Sans", Arial, sans-serif' font-size="52.00" fill="#000" text-anchor="end" transform="translate(389.30 546.80) scale(1 1.025)">0.8</text>
<text x="0" y="0" font-family='"Liberation Sans", Arial, sans-serif' font-size="52.00" fill="#000" text-anchor="end" transform="translate(389.30 670.40) scale(1 1.025)">0.4</text>
<text x="0" y="0" font-family='"Liberation Sans", Arial, sans-serif' font-size="52.00" fill="#000" text-anchor="end" transform="translate(389.30 794.00) scale(1 1.025)">0.0</text>
<text x="0" y="0" font-family='"Liberation Sans", Arial, sans-serif' font-size="52.00" fill="#000" text-anchor="end" transform="translate(389.30 917.60) scale(1 1.025)">-0.4</text>
<text x="0" y="0" font-family='"Liberation Sans", Arial, sans-serif' font-size="52.00" fill="#000" text-anchor="end" transform="translate(389.30 1041.20) scale(1 1.025)">-0.8</text>
<text x="0" y="0" font-family='"Liberation Sans", Arial, sans-serif' font-size="52.00" fill="#000" text-anchor="end" transform="translate(389.30 1164.80) scale(1 1.025)">-1.2</text>
<text x="0" y="0" font-family='"Liberation Sans", Arial, sans-serif' font-size="52.00" fill="#0000ff" text-anchor="start" transform="translate(1690.80 176.00) scale(1 1.025)">100</text>
<text x="0" y="0" font-family='"Liberation Sans", Arial, sans-serif' font-size="52.00" fill="#0000ff" text-anchor="start" transform="translate(1690.80 299.60) scale(1 1.025)">99</text>
<text x="0" y="0" font-family='"Liberation Sans", Arial, sans-serif' font-size="52.00" fill="#0000ff" text-anchor="start" transform="translate(1690.80 423.20) scale(1 1.025)">98</text>
<text x="0" y="0" font-family='"Liberation Sans", Arial, sans-serif' font-size="52.00" fill="#0000ff" text-anchor="start" transform="translate(1690.80 546.80) scale(1 1.025)">97</text>
<text x="0" y="0" font-family='"Liberation Sans", Arial, sans-serif' font-size="52.00" fill="#0000ff" text-anchor="start" transform="translate(1690.80 670.40) scale(1 1.025)">96</text>
<text x="0" y="0" font-family='"Liberation Sans", Arial, sans-serif' font-size="52.00" fill="#0000ff" text-anchor="start" transform="translate(1690.80 794.00) scale(1 1.025)">95</text>
<text x="0" y="0" font-family='"Liberation Sans", Arial, sans-serif' font-size="52.00" fill="#0000ff" text-anchor="start" transform="translate(1690.80 917.60) scale(1 1.025)">94</text>
<text x="0" y="0" font-family='"Liberation Sans", Arial, sans-serif' font-size="52.00" fill="#0000ff" text-anchor="start" transform="translate(1690.80 1041.20) scale(1 1.025)">93</text>
<text x="0" y="0" font-family='"Liberation Sans", Arial, sans-serif' font-size="52.00" fill="#0000ff" text-anchor="start" transform="translate(1690.80 1164.80) scale(1 1.025)">92</text>
<text x="0" y="0" font-family='"Liberation Sans", Arial, sans-serif' font-size="52.00" fill="#000" text-anchor="middle" transform="translate(423.30 1222.50) scale(1 1.025)">40</text>
<text x="0" y="0" font-family='"Liberation Sans", Arial, sans-serif' font-size="52.00" fill="#000" text-anchor="middle" transform="translate(526.15 1222.50) scale(1 1.025)">60</text>
<text x="0" y="0" font-family='"Liberation Sans", Arial, sans-serif' font-size="52.00" fill="#000" text-anchor="middle" transform="translate(629.00 1222.50) scale(1 1.025)">80</text>
<text x="0" y="0" font-family='"Liberation Sans", Arial, sans-serif' font-size="52.00" fill="#000" text-anchor="middle" transform="translate(731.85 1222.50) scale(1 1.025)">100</text>
<text x="0" y="0" font-family='"Liberation Sans", Arial, sans-serif' font-size="52.00" fill="#000" text-anchor="middle" transform="translate(834.70 1222.50) scale(1 1.025)">120</text>
<text x="0" y="0" font-family='"Liberation Sans", Arial, sans-serif' font-size="52.00" fill="#000" text-anchor="middle" transform="translate(937.55 1222.50) scale(1 1.025)">140</text>
<text x="0" y="0" font-family='"Liberation Sans", Arial, sans-serif' font-size="52.00" fill="#000" text-anchor="middle" transform="translate(1040.40 1222.50) scale(1 1.025)">160</text>
<text x="0" y="0" font-family='"Liberation Sans", Arial, sans-serif' font-size="52.00" fill="#000" text-anchor="middle" transform="translate(1143.25 1222.50) scale(1 1.025)">180</text>
<text x="0" y="0" font-family='"Liberation Sans", Arial, sans-serif' font-size="52.00" fill="#000" text-anchor="middle" transform="translate(1246.10 1222.50) scale(1 1.025)">200</text>
<text x="0" y="0" font-family='"Liberation Sans", Arial, sans-serif' font-size="52.00" fill="#000" text-anchor="middle" transform="translate(1348.95 1222.50) scale(1 1.025)">220</text>
<text x="0" y="0" font-family='"Liberation Sans", Arial, sans-serif' font-size="52.00" fill="#000" text-anchor="middle" transform="translate(1451.80 1222.50) scale(1 1.025)">240</text>
<text x="0" y="0" font-family='"Liberation Sans", Arial, sans-serif' font-size="52.00" fill="#000" text-anchor="middle" transform="translate(1554.65 1222.50) scale(1 1.025)">260</text>
<text x="0" y="0" font-family='"Liberation Sans", Arial, sans-serif' font-size="52.00" fill="#000" text-anchor="middle" transform="translate(1657.50 1222.50) scale(1 1.025)">280</text>
<text x="809.00" y="1344.80" font-family='"Liberation Sans", Arial, sans-serif' font-size="62.00" fill="#000" text-anchor="start">Temperature, <tspan dy="-25.0">o</tspan><tspan dy="25.0">C</tspan></text>
<text x="0" y="0" font-family='"Liberation Sans", Arial, sans-serif' font-size="61.00" fill="#000" text-anchor="start" transform="translate(263.50 853.00) rotate(-90) scale(1 1.04)">Heat flow, mW</text>
<text x="0" y="0" font-family='"Liberation Sans", Arial, sans-serif' font-size="61.00" fill="#0000ff" text-anchor="start" transform="translate(1843.20 964.00) rotate(-90) scale(0.992 1.06)">Remaining mass, wt.%</text>
<text x="0" y="0" font-family='"Liberation Sans", Arial, sans-serif' font-size="60.50" fill="#000" text-anchor="start" transform="translate(185.97 821.95) rotate(-90)">endothermic</text>
<line x1="169.40" y1="354.94" x2="169.40" y2="474.21" stroke="#000" stroke-width="1.8"/>
<polygon points="169.4,330.9 162.6,356.9 176.2,356.9" fill="#000"/>
<text x="0" y="0" font-family='"Liberation Sans", Arial, sans-serif' font-size="61.00" fill="#000" text-anchor="start" transform="translate(1101.26 240.54) scale(1 1.03)">CA+3% gallic acid</text>
<text x="0" y="0" font-family='"Liberation Sans", Arial, sans-serif' font-size="52.00" fill="#000" text-anchor="start" transform="translate(1409.02 296.02) scale(1 1.03)">DSC</text>
<text x="0" y="0" font-family='"Liberation Sans", Arial, sans-serif' font-size="52.00" fill="#0000ff" text-anchor="start" transform="translate(1409.52 359.36) scale(1 1.03)">TGA</text>
<line x1="1279.61" y1="279.14" x2="1394.42" y2="279.14" stroke="#000" stroke-width="1.8"/>
<line x1="1279.61" y1="342.19" x2="1394.42" y2="342.19" stroke="#0000ff" stroke-width="3.0"/>
<line x1="1174.68" y1="279.92" x2="1263.82" y2="279.92" stroke="#000" stroke-width="1.8"/>
<polygon points="1150.7,279.9 1176.7,273.1 1176.7,286.7" fill="#000"/>
<line x1="1528.28" y1="344.71" x2="1613.08" y2="344.71" stroke="#0000ff" stroke-width="1.8"/>
<polygon points="1637.1,344.7 1611.1,337.9 1611.1,351.5" fill="#0000ff"/>
</g>
<text x="1006.0" y="3008.0" font-family='"Liberation Serif", "DejaVu Serif", serif' font-size="83.0" text-anchor="middle" fill="#000">(<tspan font-weight="bold">b</tspan>)</text>
<g transform="translate(-20.374 3034.820) scale(1.02026 1.02720)">
<polyline points="424.0,667.5 425.5,667.0 427.0,667.2 428.5,666.4 429.9,665.6 431.4,665.3 432.9,666.2 434.3,665.2 435.8,663.9 437.3,663.3 438.8,662.3 440.2,664.0 441.7,662.7 443.2,663.2 444.6,664.9 446.1,663.1 447.6,662.0 449.0,660.9 450.5,658.2 452.0,657.1 453.5,654.8 454.9,654.3 456.4,652.7 457.9,653.7 459.3,653.0 460.8,651.1 462.3,650.4 463.8,649.3 465.2,650.7 466.7,649.1 468.2,647.6 469.6,647.0 471.1,646.2 472.6,643.3 474.0,643.0 475.5,641.5 477.0,639.6 478.5,639.3 479.9,637.9 481.4,635.3 482.9,633.6 484.3,632.9 485.8,630.7 487.3,628.8 488.8,628.3 490.2,626.1 491.7,623.8 493.2,621.6 494.6,621.2 496.1,620.1 497.6,619.3 499.0,617.7 500.5,616.4 502.0,614.9 503.5,613.8 504.9,613.1 506.4,610.2 507.9,608.8 509.3,606.7 510.8,605.6 512.3,602.1 513.8,601.2 515.2,599.3 516.7,598.1 518.2,595.3 519.6,594.5 521.1,592.4 522.6,590.0 524.1,588.9 525.5,587.4 527.0,585.3 528.5,584.2 529.9,581.6 531.4,581.7 532.9,578.9 534.3,576.0 535.8,573.0 537.3,571.7 538.8,569.7 540.2,567.7 541.7,565.5 543.2,564.2 544.6,563.6 546.1,562.5 547.6,560.5 549.1,559.4 550.5,558.7 552.0,555.3 553.5,555.1 554.9,553.8 556.4,551.5 557.9,551.0 559.3,548.6 560.8,547.6 562.3,545.9 563.8,544.7 565.2,542.2 566.7,540.6 568.2,538.9 569.6,538.2 571.1,539.8 572.6,537.4 574.1,534.9 575.5,534.6 577.0,532.5 578.5,527.8 579.9,526.7 581.4,524.0 582.9,522.2 584.3,522.0 585.8,520.0 587.3,518.4 588.8,517.6 590.2,517.1 591.7,515.7 593.2,515.7 594.6,513.5 596.1,513.0 597.6,512.4 599.1,511.6 600.5,510.6 602.0,509.5 603.5,507.9 604.9,506.1 606.4,507.1 607.9,504.8 609.4,505.7 610.8,503.3 612.3,501.0 613.8,502.9 615.2,501.3 616.7,499.7 618.2,498.9 619.6,498.0 621.1,498.2 622.6,496.0 624.1,497.2 625.5,496.5 627.0,494.2 628.5,494.5 629.9,492.7 631.4,491.1 632.9,492.4 634.4,491.2 635.8,491.8 637.3,491.8 638.8,492.5 640.2,490.7 641.7,490.2 643.2,489.6 644.6,490.8 646.1,491.0 647.6,490.8 649.1,492.5 650.5,492.0 652.0,493.1 653.5,494.0 654.9,494.4 656.4,494.4 657.9,495.2 659.4,495.4 660.8,496.1 662.3,496.8 663.8,496.8 665.2,497.5 666.7,500.1 668.2,500.8 669.6,502.5 671.1,504.9 672.6,506.3 674.1,507.1 675.5,509.3 677.0,509.3 678.5,511.9 679.9,512.7 681.4,513.0 682.9,513.2 684.4,515.7 685.8,517.0 687.3,518.0 688.8,520.2 690.2,520.6 691.7,522.3 693.2,522.6 694.7,525.1 696.1,525.9 697.6,524.7 699.1,525.2 700.5,527.5 702.0,530.2 703.5,530.7 704.9,532.0 706.4,533.9 707.9,534.6 709.4,538.0 710.8,539.4 712.3,541.7 713.8,542.9 715.2,544.0 716.7,546.4 718.2,547.9 719.7,549.8 721.1,548.8 722.6,552.3 724.1,553.3 725.5,557.0 727.0,558.1 728.5,559.1 729.9,561.2 731.4,564.6 732.9,567.0 734.4,567.0 735.8,568.4 737.3,570.7 738.8,572.7 740.2,574.2 741.7,574.7 743.2,577.1 744.7,578.3 746.1,580.4 747.6,581.1 749.1,583.3 750.5,584.2 752.0,586.1 753.5,586.2 754.9,587.9 756.4,590.3 757.9,592.0 759.4,594.5 760.8,594.4 762.3,597.5 763.8,600.2 765.2,604.6 766.7,603.5 768.2,607.9 769.7,608.0 771.1,608.8 772.6,610.5 774.1,611.5 775.5,609.4 777.0,611.4 778.5,613.0 780.0,613.6 781.4,615.0 782.9,613.5 784.4,614.5 785.8,613.4 787.3,616.2 788.8,616.4 790.2,618.5 791.7,619.4 793.2,621.3 794.7,620.3 796.1,622.8 797.6,623.0 799.1,621.8 800.5,623.5 802.0,623.9 803.5,623.3 805.0,625.8 806.4,626.6 807.9,628.6 809.4,629.2 810.8,627.5 812.3,629.1 813.8,631.0 815.2,632.4 816.7,632.1 818.2,632.3 819.7,633.2 821.1,634.2 822.6,633.8 824.1,634.2 825.5,635.2 827.0,636.6 828.5,638.1 830.0,637.6 831.4,639.2 832.9,639.8 834.4,639.8 835.8,639.5 837.3,639.8 838.8,639.7 840.2,640.2 841.7,640.2 843.2,641.8 844.7,642.6 846.1,643.0 847.6,643.0 849.1,644.3 850.5,644.7 852.0,645.9 853.5,645.9 855.0,645.5 856.4,644.2 857.9,645.1 859.4,645.7 860.8,646.6 862.3,647.6 863.8,647.9 865.2,647.4 866.7,648.6 868.2,649.2 869.7,650.1 871.1,648.5 872.6,647.9 874.1,649.4 875.5,650.2 877.0,648.5 878.5,649.0 880.0,648.5 881.4,649.1 882.9,647.8 884.4,647.5 885.8,647.8 887.3,647.5 888.8,646.1 890.3,646.6 891.7,646.3 893.2,648.3 894.7,648.1 896.1,647.1 897.6,647.4 899.1,648.6 900.5,649.0 902.0,649.2 903.5,650.7 905.0,651.5 906.4,651.2 907.9,651.9 909.4,651.4 910.8,650.9 912.3,650.6 913.8,650.8 915.3,650.7 916.7,652.3 918.2,650.7 919.7,649.9 921.1,649.2 922.6,648.3 924.1,648.9 925.5,648.8 927.0,649.4 928.5,650.5 930.0,650.9 931.4,652.6 932.9,654.2 934.4,652.4 935.8,651.6 937.3,651.5 938.8,650.8 940.3,650.6 941.7,651.0 943.2,650.7 944.7,651.5 946.1,650.3 947.6,651.6 949.1,651.7 950.5,653.0 952.0,652.8 953.5,654.0 955.0,653.8 956.4,654.9 957.9,652.8 959.4,655.2 960.8,652.4 962.3,653.5 963.8,653.2 965.3,653.5 966.7,654.9 968.2,654.3 969.7,653.8 971.1,655.1 972.6,656.2 974.1,655.9 975.6,655.9 977.0,656.4 978.5,656.2 980.0,654.4 981.4,656.2 982.9,655.7 984.4,658.2 985.8,657.3 987.3,657.2 988.8,656.1 990.3,657.1 991.7,656.4 993.2,657.6 994.7,657.2 996.1,658.2 997.6,656.7 999.1,657.1 1000.6,656.1 1002.0,655.9 1003.5,655.0 1005.0,654.7 1006.4,655.7 1007.9,658.4 1009.4,656.2 1010.8,656.9 1012.3,658.5 1013.8,658.0 1015.3,660.1 1016.7,658.6 1018.2,659.1 1019.7,659.2 1021.1,658.5 1022.6,659.6 1024.1,659.1 1025.6,660.5 1027.0,660.0 1028.5,659.9 1030.0,660.7 1031.4,661.3 1032.9,661.2 1034.4,661.3 1035.8,661.7 1037.3,661.1 1038.8,663.1 1040.3,663.6 1041.7,665.0 1043.2,665.7 1044.7,665.6 1046.1,661.5 1047.6,660.6 1049.1,662.4 1050.6,661.9 1052.0,662.6 1053.5,661.5 1055.0,663.6 1056.4,663.3 1057.9,662.3 1059.4,664.8 1060.9,664.6 1062.3,665.0 1063.8,664.8 1065.3,667.8 1066.7,665.7 1068.2,667.2 1069.7,666.6 1071.1,667.1 1072.6,668.3 1074.1,668.3 1075.6,669.1 1077.0,668.1 1078.5,668.2 1080.0,668.0 1081.4,668.4 1082.9,668.0 1084.4,669.3 1085.9,670.7 1087.3,668.7 1088.8,669.7 1090.3,669.7 1091.7,668.7 1093.2,668.4 1094.7,668.3 1096.1,669.4 1097.6,667.7 1099.1,669.3 1100.6,670.2 1102.0,670.5 1103.5,672.2 1105.0,670.4 1106.4,670.6 1107.9,670.2 1109.4,671.2 1110.9,670.1 1112.3,671.0 1113.8,671.7 1115.3,673.1 1116.7,672.2 1118.2,672.4 1119.7,673.3 1121.1,674.3 1122.6,672.6 1124.1,673.6 1125.6,673.2 1127.0,672.7 1128.5,675.1 1130.0,675.9 1131.4,675.4 1132.9,676.5 1134.4,676.5 1135.9,677.5 1137.3,677.6 1138.8,677.9 1140.3,679.6 1141.7,679.4 1143.2,679.8 1144.7,681.2 1146.2,679.9 1147.6,681.9 1149.1,682.0 1150.6,681.1 1152.0,682.7 1153.5,684.6 1155.0,685.0 1156.4,686.0 1157.9,685.6 1159.4,686.2 1160.9,685.4 1162.3,686.8 1163.8,689.1 1165.3,687.7 1166.7,688.0 1168.2,691.1 1169.7,689.9 1171.2,691.0 1172.6,691.8 1174.1,692.8 1175.6,692.6 1177.0,694.0 1178.5,694.0 1180.0,694.1 1181.4,694.9 1182.9,694.6 1184.4,694.4 1185.9,693.8 1187.3,694.4 1188.8,691.5 1190.3,694.0 1191.7,693.5 1193.2,693.6 1194.7,694.2 1196.2,695.5 1197.6,696.7 1199.1,696.3 1200.6,698.9 1202.0,697.4 1203.5,699.6 1205.0,699.5 1206.4,701.8 1207.9,701.1 1209.4,700.2 1210.9,702.1 1212.3,700.4 1213.8,699.8 1215.3,698.2 1216.7,696.6 1218.2,695.3 1219.7,695.7 1221.2,696.1 1222.6,697.3 1224.1,697.3 1225.6,698.6 1227.0,697.4 1228.5,695.9 1230.0,695.1 1231.5,696.9 1232.9,694.9 1234.4,693.9 1235.9,693.0 1237.3,691.8 1238.8,691.0 1240.3,690.1 1241.7,690.3 1243.2,688.6 1244.7,688.9 1246.2,688.6 1247.6,688.0 1249.1,688.3 1250.6,686.2 1252.0,681.5 1253.5,681.9 1255.0,680.9 1256.5,679.9 1257.9,681.9 1259.4,680.8 1260.9,678.4 1262.3,678.6 1263.8,677.4 1265.3,676.7 1266.7,675.9 1268.2,677.0 1269.7,677.1 1271.2,677.3 1272.6,678.1 1274.1,677.9 1275.6,677.9 1277.0,680.9 1278.5,682.5 1280.0,681.5 1281.5,683.1 1282.9,686.5 1284.4,685.3 1285.9,687.0 1287.3,687.9 1288.8,688.2 1290.3,688.4 1291.7,691.1 1293.2,690.8 1294.7,689.9 1296.2,690.1 1297.6,692.2 1299.1,692.2 1300.6,696.5 1302.0,697.5 1303.5,699.3 1305.0,699.7 1306.5,701.7 1307.9,700.9 1309.4,703.5 1310.9,705.7 1312.3,705.9 1313.8,708.8 1315.3,711.7 1316.8,714.9 1318.2,715.5 1319.7,715.1 1321.2,716.3 1322.6,716.3 1324.1,715.8 1325.6,718.3 1327.0,719.7 1328.5,722.0 1330.0,723.2 1331.5,725.5 1332.9,725.6 1334.4,727.8 1335.9,728.2 1337.3,729.9 1338.8,729.0 1340.3,730.2 1341.8,729.2 1343.2,731.7 1344.7,732.5 1346.2,733.2 1347.6,733.5 1349.1,732.2 1350.6,735.2 1352.0,735.6 1353.5,735.4 1355.0,737.8 1356.5,737.8 1357.9,740.3 1359.4,738.9 1360.9,740.9 1362.3,739.8 1363.8,737.6 1365.3,736.8 1366.8,736.2 1368.2,734.2 1369.7,735.2 1371.2,735.9 1372.6,736.8 1374.1,737.6 1375.6,738.7 1377.0,739.6 1378.5,739.5 1380.0,739.8 1381.5,738.9 1382.9,740.8 1384.4,739.4 1385.9,739.7 1387.3,739.9 1388.8,742.0 1390.3,743.5 1391.8,747.5 1393.2,746.5 1394.7,746.7 1396.2,747.8 1397.6,747.0 1399.1,745.8 1400.6,745.0 1402.1,746.0 1403.5,745.9 1405.0,745.4 1406.5,747.5 1407.9,747.4 1409.4,749.6 1410.9,750.2 1412.3,751.2 1413.8,752.0 1415.3,753.3 1416.8,753.4 1418.2,756.8 1419.7,756.4 1421.2,756.8 1422.6,755.5 1424.1,755.9 1425.6,754.7 1427.1,755.1 1428.5,753.6 1430.0,754.7 1431.5,754.3 1432.9,755.5 1434.4,754.1 1435.9,755.8 1437.3,756.4 1438.8,755.9 1440.3,757.1 1441.8,757.7 1443.2,756.8 1444.7,759.1 1446.2,759.3 1447.6,760.8 1449.1,760.3 1450.6,762.2 1452.1,761.8 1453.5,764.4 1455.0,763.4 1456.5,764.3 1457.9,764.9 1459.4,766.0 1460.9,765.6 1462.3,766.5 1463.8,767.7 1465.3,767.1 1466.8,767.4 1468.2,768.3 1469.7,770.8 1471.2,773.2 1472.6,774.3 1474.1,774.2 1475.6,772.3 1477.1,772.4 1478.5,773.6 1480.0,772.6 1481.5,773.2 1482.9,774.9 1484.4,777.5 1485.9,780.9 1487.3,782.1 1488.8,782.5 1490.3,782.2 1491.8,782.7 1493.2,784.4 1494.7,786.5 1496.2,786.3 1497.6,786.6 1499.1,788.8 1500.6,792.6 1502.1,797.6 1503.5,800.5 1505.0,802.9 1506.5,803.1 1507.9,806.9 1509.4,809.3 1510.9,810.2 1512.4,813.6 1513.8,815.2 1515.3,816.3 1516.8,819.2 1518.2,823.4 1519.7,827.7 1521.2,833.5 1522.6,835.2 1524.1,837.7 1525.6,839.2 1527.1,841.9 1528.5,842.2 1530.0,844.8 1531.5,846.4 1532.9,847.0 1534.4,849.0 1535.9,851.5 1537.4,857.3 1538.8,864.3 1540.3,869.6 1541.8,875.4 1543.2,881.1 1544.7,885.9 1546.2,891.6 1547.6,893.0 1549.1,897.1 1550.6,899.7 1552.1,903.9 1553.5,909.3 1555.0,916.0 1556.5,919.7 1557.9,923.3 1559.4,926.7 1560.9,928.9 1562.4,930.3 1563.8,933.8 1565.3,935.8 1566.8,937.8 1568.2,939.6 1569.7,942.6 1571.2,943.5 1572.6,946.4 1574.1,949.9 1575.6,955.2 1577.1,963.9 1578.5,967.0 1580.0,969.8 1581.5,970.6 1582.9,974.7 1584.4,976.2 1585.9,980.0 1587.4,985.8 1588.8,990.2 1590.3,993.2 1591.8,997.9 1593.2,1002.4 1594.7,1005.9 1596.2,1009.4 1597.7,1013.7 1599.1,1016.9 1600.6,1020.5 1602.1,1024.8 1603.5,1027.5 1605.0,1032.7 1606.5,1037.9 1607.9,1042.9 1609.4,1044.2 1610.9,1046.2 1612.4,1045.7 1613.8,1049.0 1615.3,1054.7 1616.8,1061.7 1618.2,1068.5 1619.7,1072.1 1621.2,1077.0 1622.7,1082.2 1624.1,1084.9 1625.6,1088.2 1627.1,1090.7 1628.5,1092.5 1630.0,1097.0 1631.5,1100.0 1632.9,1101.9 1634.4,1105.6 1635.9,1108.8 1637.4,1112.5 1638.8,1114.6 1640.3,1118.8 1641.8,1121.8 1643.2,1126.5 1644.7,1133.0 1646.2,1136.3 1647.7,1140.2 1649.1,1147.5" fill="none" stroke="#000" stroke-width="1.45" stroke-linejoin="round"/>
<polyline points="424.0,160.1 426.0,162.5 428.0,164.2 429.9,165.8 431.9,167.4 433.9,169.2 435.8,171.5 437.8,173.5 439.7,175.5 441.7,177.3 443.7,179.1 445.6,181.0 447.6,182.4 449.6,184.7 451.5,186.2 453.5,187.8 455.4,188.9 457.4,190.3 459.4,192.5 461.3,194.8 463.3,197.2 465.2,199.8 467.2,202.4 469.2,204.4 471.1,206.6 473.1,208.3 475.1,210.0 477.0,212.6 479.0,214.5 480.9,216.8 482.9,218.5 484.9,220.4 486.8,222.2 488.8,224.0 490.8,225.7 492.7,227.3 494.7,229.2 496.6,230.9 498.6,232.8 500.6,235.0 502.5,236.3 504.5,237.9 506.4,238.7 508.4,239.0 510.4,239.8 512.3,239.7 514.3,238.1 516.3,237.9 518.2,238.1 520.2,238.2 522.1,238.9 524.1,239.2 526.1,239.5 528.0,240.8 530.0,241.4 532.0,242.3 533.9,242.8 535.9,243.1 537.8,243.6 539.8,243.8 541.8,244.3 543.7,244.1 545.7,244.2 547.7,243.9 549.6,244.0 551.6,244.2 553.5,245.2 555.5,245.3 557.5,246.7 559.4,249.9 561.4,252.0 563.3,252.7 565.3,253.0 567.3,253.4 569.2,254.6 571.2,255.1 573.2,255.5 575.1,256.6 577.1,257.3 579.0,257.9 581.0,258.5 583.0,259.2 584.9,260.0 586.9,260.4 588.9,261.0 590.8,261.4 592.8,261.6 594.7,262.5 596.7,262.5 598.7,262.5 600.6,262.2 602.6,262.3 604.5,262.4 606.5,262.0 608.5,262.4 610.4,262.6 612.4,262.3 614.4,262.7 616.3,262.2 618.3,261.7 620.2,261.4 622.2,261.2 624.2,260.5 626.1,260.4 628.1,259.5 630.1,260.0 632.0,260.7 634.0,261.1 635.9,261.7 637.9,262.7 639.9,263.4 641.8,263.5 643.8,263.6 645.8,264.1 647.7,264.4 649.7,264.6 651.6,265.0 653.6,264.3 655.6,264.4 657.5,263.5 659.5,263.5 661.4,264.3 663.4,265.1 665.4,265.6 667.3,266.0 669.3,266.4 671.3,266.6 673.2,266.9 675.2,266.6 677.1,266.2 679.1,266.0 681.1,265.7 683.0,265.9 685.0,265.9 687.0,266.1 688.9,265.6 690.9,265.6 692.8,266.1 694.8,267.1 696.8,268.4 698.7,269.4 700.7,271.2 702.6,271.7 704.6,270.7 706.6,270.8 708.5,271.1 710.5,271.2 712.5,271.3 714.4,271.1 716.4,271.4 718.3,271.4 720.3,271.7 722.3,272.4 724.2,272.1 726.2,271.8 728.2,271.8 730.1,271.5 732.1,271.4 734.0,270.4 736.0,270.3 738.0,270.0 739.9,269.0 741.9,268.5 743.9,268.1 745.8,267.8 747.8,267.5 749.7,266.6 751.7,266.7 753.7,266.5 755.6,266.6 757.6,266.5 759.5,265.7 761.5,266.3 763.5,265.6 765.4,266.1 767.4,265.6 769.4,266.1 771.3,266.4 773.3,266.1 775.2,266.3 777.2,266.7 779.2,266.7 781.1,267.1 783.1,268.0 785.1,268.5 787.0,268.7 789.0,270.1 790.9,269.9 792.9,270.6 794.9,270.8 796.8,271.3 798.8,271.9 800.7,272.1 802.7,272.3 804.7,271.8 806.6,272.0 808.6,272.6 810.6,272.3 812.5,272.4 814.5,272.6 816.4,273.4 818.4,273.7 820.4,274.2 822.3,273.9 824.3,274.1 826.3,273.7 828.2,273.9 830.2,273.8 832.1,273.0 834.1,273.4 836.1,273.2 838.0,273.0 840.0,272.7 842.0,273.1 843.9,272.7 845.9,272.3 847.8,272.7 849.8,272.7 851.8,272.9 853.7,272.4 855.7,272.7 857.6,272.5 859.6,272.0 861.6,271.0 863.5,270.7 865.5,271.2 867.5,270.9 869.4,271.3 871.4,271.8 873.3,271.7 875.3,271.4 877.3,272.0 879.2,271.6 881.2,272.3 883.2,272.2 885.1,272.1 887.1,272.2 889.0,272.6 891.0,272.9 893.0,273.6 894.9,273.7 896.9,274.2 898.8,274.6 900.8,275.2 902.8,275.4 904.7,276.4 906.7,276.4 908.7,277.0 910.6,277.4 912.6,278.4 914.5,278.3 916.5,279.0 918.5,279.4 920.4,279.9 922.4,280.2 924.4,280.9 926.3,281.8 928.3,282.0 930.2,282.4 932.2,282.9 934.2,282.9 936.1,282.9 938.1,283.4 940.1,283.9 942.0,283.5 944.0,283.9 945.9,284.5 947.9,284.4 949.9,284.4 951.8,284.5 953.8,284.7 955.7,284.6 957.7,285.2 959.7,286.0 961.6,287.0 963.6,287.4 965.6,287.2 967.5,287.1 969.5,286.9 971.4,287.0 973.4,286.6 975.4,287.1 977.3,286.4 979.3,286.9 981.3,286.9 983.2,286.7 985.2,287.7 987.1,287.9 989.1,288.1 991.1,289.3 993.0,290.4 995.0,290.8 996.9,291.5 998.9,292.1 1000.9,292.5 1002.8,292.7 1004.8,293.4 1006.8,293.7 1008.7,294.2 1010.7,294.2 1012.6,295.9 1014.6,297.2 1016.6,298.0 1018.5,298.9 1020.5,300.0 1022.5,300.1 1024.4,301.5 1026.4,303.1 1028.3,303.4 1030.3,304.7 1032.3,305.8 1034.2,305.8 1036.2,305.9 1038.2,306.1 1040.1,305.6 1042.1,305.8 1044.0,305.8 1046.0,305.9 1048.0,305.7 1049.9,305.6 1051.9,305.7 1053.8,306.1 1055.8,306.6 1057.8,306.8 1059.7,307.0 1061.7,307.2 1063.7,308.5 1065.6,308.9 1067.6,309.3 1069.5,308.9 1071.5,309.3 1073.5,309.4 1075.4,309.5 1077.4,309.1 1079.4,308.9 1081.3,309.0 1083.3,308.6 1085.2,309.9 1087.2,310.6 1089.2,311.4 1091.1,312.7 1093.1,313.4 1095.0,313.5 1097.0,314.2 1099.0,315.0 1100.9,315.4 1102.9,315.6 1104.9,315.8 1106.8,316.6 1108.8,316.5 1110.7,316.4 1112.7,317.2 1114.7,318.7 1116.6,319.6 1118.6,320.9 1120.6,321.9 1122.5,322.6 1124.5,323.3 1126.4,322.8 1128.4,323.1 1130.4,323.2 1132.3,323.1 1134.3,322.7 1136.3,322.7 1138.2,322.6 1140.2,322.3 1142.1,322.0 1144.1,321.7 1146.1,321.4 1148.0,321.4 1150.0,321.2 1151.9,321.0 1153.9,321.0 1155.9,321.3 1157.8,320.8 1159.8,320.8 1161.8,320.5 1163.7,320.5 1165.7,320.6 1167.6,320.0 1169.6,320.5 1171.6,321.1 1173.5,321.6 1175.5,322.4 1177.5,323.1 1179.4,323.7 1181.4,324.4 1183.3,325.8 1185.3,326.5 1187.3,327.9 1189.2,328.3 1191.2,328.9 1193.1,330.0 1195.1,331.1 1197.1,331.4 1199.0,331.9 1201.0,332.8 1203.0,333.6 1204.9,334.4 1206.9,335.3 1208.8,336.6 1210.8,337.6 1212.8,338.6 1214.7,339.5 1216.7,340.4 1218.7,341.3 1220.6,342.4 1222.6,342.8 1224.5,343.9 1226.5,344.6 1228.5,344.9 1230.4,345.9 1232.4,346.4 1234.4,346.9 1236.3,347.4 1238.3,349.2 1240.2,349.9 1242.2,350.2 1244.2,350.9 1246.1,352.0 1248.1,351.7 1250.0,352.6 1252.0,353.1 1254.0,353.4 1255.9,353.9 1257.9,354.7 1259.9,355.5 1261.8,356.5 1263.8,357.3 1265.7,358.2 1267.7,359.4 1269.7,360.4 1271.6,361.5 1273.6,363.1 1275.6,364.7 1277.5,366.5 1279.5,367.7 1281.4,369.2 1283.4,370.7 1285.4,371.7 1287.3,373.4 1289.3,374.4 1291.3,376.4 1293.2,378.3 1295.2,379.8 1297.1,381.0 1299.1,382.3 1301.1,383.4 1303.0,385.5 1305.0,386.7 1306.9,388.2 1308.9,388.8 1310.9,390.0 1312.8,390.3 1314.8,391.6 1316.8,392.3 1318.7,392.4 1320.7,393.6 1322.6,394.6 1324.6,394.8 1326.6,395.5 1328.5,396.6 1330.5,397.8 1332.5,398.8 1334.4,400.1 1336.4,401.3 1338.3,402.7 1340.3,404.3 1342.3,405.9 1344.2,407.3 1346.2,408.4 1348.1,410.3 1350.1,411.9 1352.1,413.9 1354.0,415.6 1356.0,417.2 1358.0,419.0 1359.9,420.2 1361.9,421.8 1363.8,423.7 1365.8,425.6 1367.8,428.1 1369.7,430.8 1371.7,433.5 1373.7,436.5 1375.6,438.9 1377.6,441.2 1379.5,443.5 1381.5,446.1 1383.5,447.6 1385.4,450.2 1387.4,452.7 1389.4,454.4 1391.3,456.8 1393.3,458.9 1395.2,460.5 1397.2,462.4 1399.2,464.0 1401.1,465.8 1403.1,468.2 1405.0,470.7 1407.0,473.4 1409.0,476.2 1410.9,478.7 1412.9,481.0 1414.9,483.2 1416.8,485.2 1418.8,487.4 1420.7,490.2 1422.7,492.7 1424.7,495.5 1426.6,498.6 1428.6,501.6 1430.6,505.3 1432.5,509.0 1434.5,512.3 1436.4,516.2 1438.4,518.9 1440.4,522.3 1442.3,525.4 1444.3,529.1 1446.2,532.0 1448.2,535.9 1450.2,539.6 1452.1,543.0 1454.1,546.3 1456.1,548.9 1458.0,552.3 1460.0,555.7 1461.9,560.3 1463.9,565.0 1465.9,569.6 1467.8,573.7 1469.8,577.2 1471.8,581.5 1473.7,584.4 1475.7,588.4 1477.6,592.7 1479.6,596.1 1481.6,600.3 1483.5,605.1 1485.5,609.2 1487.5,613.4 1489.4,618.0 1491.4,622.4 1493.3,626.0 1495.3,629.2 1497.3,633.2 1499.2,637.0 1501.2,640.6 1503.1,644.5 1505.1,648.3 1507.1,652.9 1509.0,657.2 1511.0,662.4 1513.0,666.8 1514.9,671.3 1516.9,675.8 1518.8,680.0 1520.8,684.0 1522.8,688.3 1524.7,693.5 1526.7,698.3 1528.7,703.8 1530.6,709.4 1532.6,714.8 1534.5,720.3 1536.5,726.3 1538.5,730.3 1540.4,734.8 1542.4,738.9 1544.3,744.3 1546.3,749.7 1548.3,756.4 1550.2,761.7 1552.2,767.3 1554.2,776.4 1556.1,786.6 1558.1,796.1 1560.0,804.6 1562.0,813.8 1564.0,822.8 1565.9,831.2 1567.9,838.7 1569.9,846.7 1571.8,854.2 1573.8,862.3 1575.7,870.2 1577.7,878.3 1579.7,885.9 1581.6,893.0 1583.6,900.1 1585.6,906.7 1587.5,913.3 1589.5,919.1 1591.4,924.7 1593.4,930.3 1595.4,936.7 1597.3,942.5 1599.3,947.3 1601.2,950.0 1603.2,951.6 1605.2,953.2 1607.1,955.3 1609.1,956.8 1611.1,959.1 1613.0,962.1 1615.0,963.8 1616.9,967.0 1618.9,970.7 1620.9,975.2 1622.8,980.5 1624.8,985.5 1626.8,990.8 1628.7,995.8 1630.7,1001.7 1632.6,1007.2 1634.6,1013.6 1636.6,1020.4 1638.5,1026.9 1640.5,1033.8 1642.4,1041.0 1644.4,1048.2 1646.4,1055.9 1648.3,1064.0 1650.3,1071.5 1652.3,1080.2 1654.2,1092.1 1656.2,1103.6" fill="none" stroke="#0000ff" stroke-width="2.7" stroke-linejoin="round"/>
<line x1="938.46" y1="239.85" x2="938.46" y2="1147.95" stroke="#000" stroke-width="3.8" stroke-dasharray="14.3 20.07"/>
<line x1="404.30" y1="161.00" x2="1657.50" y2="161.00" stroke="#000" stroke-width="4.0"/>
<line x1="404.30" y1="1149.80" x2="1659.50" y2="1149.80" stroke="#000" stroke-width="4.0"/>
<line x1="423.30" y1="159.00" x2="423.30" y2="1168.80" stroke="#000" stroke-width="4.0"/>
<line x1="474.73" y1="1149.80" x2="474.73" y2="1159.30" stroke="#000" stroke-width="4.0"/>
<line x1="474.73" y1="161.00" x2="474.73" y2="170.50" stroke="#000" stroke-width="4.0"/>
<line x1="526.15" y1="1149.80" x2="526.15" y2="1168.80" stroke="#000" stroke-width="4.0"/>
<line x1="526.15" y1="161.00" x2="526.15" y2="180.00" stroke="#000" stroke-width="4.0"/>
<line x1="577.58" y1="1149.80" x2="577.58" y2="1159.30" stroke="#000" stroke-width="4.0"/>
<line x1="577.58" y1="161.00" x2="577.58" y2="170.50" stroke="#000" stroke-width="4.0"/>
<line x1="629.00" y1="1149.80" x2="629.00" y2="1168.80" stroke="#000" stroke-width="4.0"/>
<line x1="629.00" y1="161.00" x2="629.00" y2="180.00" stroke="#000" stroke-width="4.0"/>
<line x1="680.42" y1="1149.80" x2="680.42" y2="1159.30" stroke="#000" stroke-width="4.0"/>
<line x1="680.42" y1="161.00" x2="680.42" y2="170.50" stroke="#000" stroke-width="4.0"/>
<line x1="731.85" y1="1149.80" x2="731.85" y2="1168.80" stroke="#000" stroke-width="4.0"/>
<line x1="731.85" y1="161.00" x2="731.85" y2="180.00" stroke="#000" stroke-width="4.0"/>
<line x1="783.28" y1="1149.80" x2="783.28" y2="1159.30" stroke="#000" stroke-width="4.0"/>
<line x1="783.28" y1="161.00" x2="783.28" y2="170.50" stroke="#000" stroke-width="4.0"/>
<line x1="834.70" y1="1149.80" x2="834.70" y2="1168.80" stroke="#000" stroke-width="4.0"/>
<line x1="834.70" y1="161.00" x2="834.70" y2="180.00" stroke="#000" stroke-width="4.0"/>
<line x1="886.12" y1="1149.80" x2="886.12" y2="1159.30" stroke="#000" stroke-width="4.0"/>
<line x1="886.12" y1="161.00" x2="886.12" y2="170.50" stroke="#000" stroke-width="4.0"/>
<line x1="937.55" y1="1149.80" x2="937.55" y2="1168.80" stroke="#000" stroke-width="4.0"/>
<line x1="937.55" y1="161.00" x2="937.55" y2="180.00" stroke="#000" stroke-width="4.0"/>
<line x1="988.97" y1="1149.80" x2="988.97" y2="1159.30" stroke="#000" stroke-width="4.0"/>
<line x1="988.97" y1="161.00" x2="988.97" y2="170.50" stroke="#000" stroke-width="4.0"/>
<line x1="1040.40" y1="1149.80" x2="1040.40" y2="1168.80" stroke="#000" stroke-width="4.0"/>
<line x1="1040.40" y1="161.00" x2="1040.40" y2="180.00" stroke="#000" stroke-width="4.0"/>
<line x1="1091.83" y1="1149.80" x2="1091.83" y2="1159.30" stroke="#000" stroke-width="4.0"/>
<line x1="1091.83" y1="161.00" x2="1091.83" y2="170.50" stroke="#000" stroke-width="4.0"/>
<line x1="1143.25" y1="1149.80" x2="1143.25" y2="1168.80" stroke="#000" stroke-width="4.0"/>
<line x1="1143.25" y1="161.00" x2="1143.25" y2="180.00" stroke="#000" stroke-width="4.0"/>
<line x1="1194.67" y1="1149.80" x2="1194.67" y2="1159.30" stroke="#000" stroke-width="4.0"/>
<line x1="1194.67" y1="161.00" x2="1194.67" y2="170.50" stroke="#000" stroke-width="4.0"/>
<line x1="1246.10" y1="1149.80" x2="1246.10" y2="1168.80" stroke="#000" stroke-width="4.0"/>
<line x1="1246.10" y1="161.00" x2="1246.10" y2="180.00" stroke="#000" stroke-width="4.0"/>
<line x1="1297.53" y1="1149.80" x2="1297.53" y2="1159.30" stroke="#000" stroke-width="4.0"/>
<line x1="1297.53" y1="161.00" x2="1297.53" y2="170.50" stroke="#000" stroke-width="4.0"/>
<line x1="1348.95" y1="1149.80" x2="1348.95" y2="1168.80" stroke="#000" stroke-width="4.0"/>
<line x1="1348.95" y1="161.00" x2="1348.95" y2="180.00" stroke="#000" stroke-width="4.0"/>
<line x1="1400.38" y1="1149.80" x2="1400.38" y2="1159.30" stroke="#000" stroke-width="4.0"/>
<line x1="1400.38" y1="161.00" x2="1400.38" y2="170.50" stroke="#000" stroke-width="4.0"/>
<line x1="1451.80" y1="1149.80" x2="1451.80" y2="1168.80" stroke="#000" stroke-width="4.0"/>
<line x1="1451.80" y1="161.00" x2="1451.80" y2="180.00" stroke="#000" stroke-width="4.0"/>
<line x1="1503.22" y1="1149.80" x2="1503.22" y2="1159.30" stroke="#000" stroke-width="4.0"/>
<line x1="1503.22" y1="161.00" x2="1503.22" y2="170.50" stroke="#000" stroke-width="4.0"/>
<line x1="1554.65" y1="1149.80" x2="1554.65" y2="1168.80" stroke="#000" stroke-width="4.0"/>
<line x1="1554.65" y1="161.00" x2="1554.65" y2="180.00" stroke="#000" stroke-width="4.0"/>
<line x1="1606.08" y1="1149.80" x2="1606.08" y2="1159.30" stroke="#000" stroke-width="4.0"/>
<line x1="1606.08" y1="161.00" x2="1606.08" y2="170.50" stroke="#000" stroke-width="4.0"/>
<line x1="1657.50" y1="1149.80" x2="1657.50" y2="1168.80" stroke="#000" stroke-width="4.0"/>
<line x1="413.80" y1="222.80" x2="423.30" y2="222.80" stroke="#000" stroke-width="4.0"/>
<line x1="404.30" y1="284.60" x2="423.30" y2="284.60" stroke="#000" stroke-width="4.0"/>
<line x1="413.80" y1="346.40" x2="423.30" y2="346.40" stroke="#000" stroke-width="4.0"/>
<line x1="404.30" y1="408.20" x2="423.30" y2="408.20" stroke="#000" stroke-width="4.0"/>
<line x1="413.80" y1="470.00" x2="423.30" y2="470.00" stroke="#000" stroke-width="4.0"/>
<line x1="404.30" y1="531.80" x2="423.30" y2="531.80" stroke="#000" stroke-width="4.0"/>
<line x1="413.80" y1="593.60" x2="423.30" y2="593.60" stroke="#000" stroke-width="4.0"/>
<line x1="404.30" y1="655.40" x2="423.30" y2="655.40" stroke="#000" stroke-width="4.0"/>
<line x1="413.80" y1="717.20" x2="423.30" y2="717.20" stroke="#000" stroke-width="4.0"/>
<line x1="404.30" y1="779.00" x2="423.30" y2="779.00" stroke="#000" stroke-width="4.0"/>
<line x1="413.80" y1="840.80" x2="423.30" y2="840.80" stroke="#000" stroke-width="4.0"/>
<line x1="404.30" y1="902.60" x2="423.30" y2="902.60" stroke="#000" stroke-width="4.0"/>
<line x1="413.80" y1="964.40" x2="423.30" y2="964.40" stroke="#000" stroke-width="4.0"/>
<line x1="404.30" y1="1026.20" x2="423.30" y2="1026.20" stroke="#000" stroke-width="4.0"/>
<line x1="413.80" y1="1088.00" x2="423.30" y2="1088.00" stroke="#000" stroke-width="4.0"/>
<line x1="1657.50" y1="159.00" x2="1657.50" y2="1151.80" stroke="#0000ff" stroke-width="4.0"/>
<line x1="1657.50" y1="161.00" x2="1676.50" y2="161.00" stroke="#0000ff" stroke-width="4.0"/>
<line x1="1657.50" y1="222.80" x2="1667.00" y2="222.80" stroke="#0000ff" stroke-width="4.0"/>
<line x1="1657.50" y1="284.60" x2="1676.50" y2="284.60" stroke="#0000ff" stroke-width="4.0"/>
<line x1="1657.50" y1="346.40" x2="1667.00" y2="346.40" stroke="#0000ff" stroke-width="4.0"/>
<line x1="1657.50" y1="408.20" x2="1676.50" y2="408.20" stroke="#0000ff" stroke-width="4.0"/>
<line x1="1657.50" y1="470.00" x2="1667.00" y2="470.00" stroke="#0000ff" stroke-width="4.0"/>
<line x1="1657.50" y1="531.80" x2="1676.50" y2="531.80" stroke="#0000ff" stroke-width="4.0"/>
<line x1="1657.50" y1="593.60" x2="1667.00" y2="593.60" stroke="#0000ff" stroke-width="4.0"/>
<line x1="1657.50" y1="655.40" x2="1676.50" y2="655.40" stroke="#0000ff" stroke-width="4.0"/>
<line x1="1657.50" y1="717.20" x2="1667.00" y2="717.20" stroke="#0000ff" stroke-width="4.0"/>
<line x1="1657.50" y1="779.00" x2="1676.50" y2="779.00" stroke="#0000ff" stroke-width="4.0"/>
<line x1="1657.50" y1="840.80" x2="1667.00" y2="840.80" stroke="#0000ff" stroke-width="4.0"/>
<line x1="1657.50" y1="902.60" x2="1676.50" y2="902.60" stroke="#0000ff" stroke-width="4.0"/>
<line x1="1657.50" y1="964.40" x2="1667.00" y2="964.40" stroke="#0000ff" stroke-width="4.0"/>
<line x1="1657.50" y1="1026.20" x2="1676.50" y2="1026.20" stroke="#0000ff" stroke-width="4.0"/>
<line x1="1657.50" y1="1088.00" x2="1667.00" y2="1088.00" stroke="#0000ff" stroke-width="4.0"/>
<line x1="1657.50" y1="1149.80" x2="1676.50" y2="1149.80" stroke="#0000ff" stroke-width="4.0"/>
<text x="0" y="0" font-family='"Liberation Sans", Arial, sans-serif' font-size="52.00" fill="#000" text-anchor="end" transform="translate(389.30 176.00) scale(1 1.025)">2.0</text>
<text x="0" y="0" font-family='"Liberation Sans", Arial, sans-serif' font-size="52.00" fill="#000" text-anchor="end" transform="translate(389.30 299.60) scale(1 1.025)">1.6</text>
<text x="0" y="0" font-family='"Liberation Sans", Arial, sans-serif' font-size="52.00" fill="#000" text-anchor="end" transform="translate(389.30 423.20) scale(1 1.025)">1.2</text>
<text x="0" y="0" font-family='"Liberation Sans", Arial, sans-serif' font-size="52.00" fill="#000" text-anchor="end" transform="translate(389.30 546.80) scale(1 1.025)">0.8</text>
<text x="0" y="0" font-family='"Liberation Sans", Arial, sans-serif' font-size="52.00" fill="#000" text-anchor="end" transform="translate(389.30 670.40) scale(1 1.025)">0.4</text>
<text x="0" y="0" font-family='"Liberation Sans", Arial, sans-serif' font-size="52.00" fill="#000" text-anchor="end" transform="translate(389.30 794.00) scale(1 1.025)">0.0</text>
<text x="0" y="0" font-family='"Liberation Sans", Arial, sans-serif' font-size="52.00" fill="#000" text-anchor="end" transform="translate(389.30 917.60) scale(1 1.025)">-0.4</text>
<text x="0" y="0" font-family='"Liberation Sans", Arial, sans-serif' font-size="52.00" fill="#000" text-anchor="end" transform="translate(389.30 1041.20) scale(1 1.025)">-0.8</text>
<text x="0" y="0" font-family='"Liberation Sans", Arial, sans-serif' font-size="52.00" fill="#000" text-anchor="end" transform="translate(389.30 1164.80) scale(1 1.025)">-1.2</text>
<text x="0" y="0" font-family='"Liberation Sans", Arial, sans-serif' font-size="52.00" fill="#0000ff" text-anchor="start" transform="translate(1690.80 176.00) scale(1 1.025)">100</text>
<text x="0" y="0" font-family='"Liberation Sans", Arial, sans-serif' font-size="52.00" fill="#0000ff" text-anchor="start" transform="translate(1690.80 299.60) scale(1 1.025)">99</text>
<text x="0" y="0" font-family='"Liberation Sans", Arial, sans-serif' font-size="52.00" fill="#0000ff" text-anchor="start" transform="translate(1690.80 423.20) scale(1 1.025)">98</text>
<text x="0" y="0" font-family='"Liberation Sans", Arial, sans-serif' font-size="52.00" fill="#0000ff" text-anchor="start" transform="translate(1690.80 546.80) scale(1 1.025)">97</text>
<text x="0" y="0" font-family='"Liberation Sans", Arial, sans-serif' font-size="52.00" fill="#0000ff" text-anchor="start" transform="translate(1690.80 670.40) scale(1 1.025)">96</text>
<text x="0" y="0" font-family='"Liberation Sans", Arial, sans-serif' font-size="52.00" fill="#0000ff" text-anchor="start" transform="translate(1690.80 794.00) scale(1 1.025)">95</text>
<text x="0" y="0" font-family='"Liberation Sans", Arial, sans-serif' font-size="52.00" fill="#0000ff" text-anchor="start" transform="translate(1690.80 917.60) scale(1 1.025)">94</text>
<text x="0" y="0" font-family='"Liberation Sans", Arial, sans-serif' font-size="52.00" fill="#0000ff" text-anchor="start" transform="translate(1690.80 1041.20) scale(1 1.025)">93</text>
<text x="0" y="0" font-family='"Liberation Sans", Arial, sans-serif' font-size="52.00" fill="#0000ff" text-anchor="start" transform="translate(1690.80 1164.80) scale(1 1.025)">92</text>
<text x="0" y="0" font-family='"Liberation Sans", Arial, sans-serif' font-size="52.00" fill="#000" text-anchor="middle" transform="translate(423.30 1222.50) scale(1 1.025)">40</text>
<text x="0" y="0" font-family='"Liberation Sans", Arial, sans-serif' font-size="52.00" fill="#000" text-anchor="middle" transform="translate(526.15 1222.50) scale(1 1.025)">60</text>
<text x="0" y="0" font-family='"Liberation Sans", Arial, sans-serif' font-size="52.00" fill="#000" text-anchor="middle" transform="translate(629.00 1222.50) scale(1 1.025)">80</text>
<text x="0" y="0" font-family='"Liberation Sans", Arial, sans-serif' font-size="52.00" fill="#000" text-anchor="middle" transform="translate(731.85 1222.50) scale(1 1.025)">100</text>
<text x="0" y="0" font-family='"Liberation Sans", Arial, sans-serif' font-size="52.00" fill="#000" text-anchor="middle" transform="translate(834.70 1222.50) scale(1 1.025)">120</text>
<text x="0" y="0" font-family='"Liberation Sans", Arial, sans-serif' font-size="52.00" fill="#000" text-anchor="middle" transform="translate(937.55 1222.50) scale(1 1.025)">140</text>
<text x="0" y="0" font-family='"Liberation Sans", Arial, sans-serif' font-size="52.00" fill="#000" text-anchor="middle" transform="translate(1040.40 1222.50) scale(1 1.025)">160</text>
<text x="0" y="0" font-family='"Liberation Sans", Arial, sans-serif' font-size="52.00" fill="#000" text-anchor="middle" transform="translate(1143.25 1222.50) scale(1 1.025)">180</text>
<text x="0" y="0" font-family='"Liberation Sans", Arial, sans-serif' font-size="52.00" fill="#000" text-anchor="middle" transform="translate(1246.10 1222.50) scale(1 1.025)">200</text>
<text x="0" y="0" font-family='"Liberation Sans", Arial, sans-serif' font-size="52.00" fill="#000" text-anchor="middle" transform="translate(1348.95 1222.50) scale(1 1.025)">220</text>
<text x="0" y="0" font-family='"Liberation Sans", Arial, sans-serif' font-size="52.00" fill="#000" text-anchor="middle" transform="translate(1451.80 1222.50) scale(1 1.025)">240</text>
<text x="0" y="0" font-family='"Liberation Sans", Arial, sans-serif' font-size="52.00" fill="#000" text-anchor="middle" transform="translate(1554.65 1222.50) scale(1 1.025)">260</text>
<text x="0" y="0" font-family='"Liberation Sans", Arial, sans-serif' font-size="52.00" fill="#000" text-anchor="middle" transform="translate(1657.50 1222.50) scale(1 1.025)">280</text>
<text x="809.00" y="1344.80" font-family='"Liberation Sans", Arial, sans-serif' font-size="62.00" fill="#000" text-anchor="start">Temperature, <tspan dy="-25.0">o</tspan><tspan dy="25.0">C</tspan></text>
<text x="0" y="0" font-family='"Liberation Sans", Arial, sans-serif' font-size="61.00" fill="#000" text-anchor="start" transform="translate(263.50 853.00) rotate(-90) scale(1 1.04)">Heat flow, mW</text>
<text x="0" y="0" font-family='"Liberation Sans", Arial, sans-serif' font-size="61.00" fill="#0000ff" text-anchor="start" transform="translate(1843.20 964.00) rotate(-90) scale(0.992 1.06)">Remaining mass, wt.%</text>
<text x="0" y="0" font-family='"Liberation Sans", Arial, sans-serif' font-size="61.00" fill="#000" text-anchor="start" transform="translate(185.81 821.82) rotate(-90)">endothermic</text>
<line x1="166.89" y1="350.79" x2="166.89" y2="469.99" stroke="#000" stroke-width="1.8"/>
<polygon points="166.9,326.8 160.1,352.8 173.7,352.8" fill="#000"/>
<text x="0" y="0" font-family='"Liberation Sans", Arial, sans-serif' font-size="61.00" fill="#000" text-anchor="start" transform="translate(1129.01 249.40) scale(1 1.03)">CA+5% gallic acid</text>
<text x="0" y="0" font-family='"Liberation Sans", Arial, sans-serif' font-size="52.00" fill="#000" text-anchor="start" transform="translate(1411.29 296.90) scale(1 1.03)">DSC</text>
<text x="0" y="0" font-family='"Liberation Sans", Arial, sans-serif' font-size="52.00" fill="#0000ff" text-anchor="start" transform="translate(1411.29 360.18) scale(1 1.03)">TGA</text>
<line x1="1281.71" y1="279.09" x2="1396.78" y2="279.09" stroke="#000" stroke-width="1.8"/>
<line x1="1281.71" y1="342.37" x2="1396.78" y2="342.37" stroke="#0000ff" stroke-width="3.0"/>
<line x1="1174.76" y1="282.69" x2="1263.78" y2="282.69" stroke="#000" stroke-width="1.8"/>
<polygon points="1150.8,282.7 1176.8,275.9 1176.8,289.5" fill="#000"/>
<line x1="1524.69" y1="336.14" x2="1609.68" y2="336.14" stroke="#0000ff" stroke-width="1.8"/>
<polygon points="1633.7,336.1 1607.7,329.3 1607.7,342.9" fill="#0000ff"/>
</g>
<text x="1006.0" y="4545.0" font-family='"Liberation Serif", "DejaVu Serif", serif' font-size="83.0" text-anchor="middle" fill="#000">(<tspan font-weight="bold">c</tspan>)</text>
</svg>
</body></html>
